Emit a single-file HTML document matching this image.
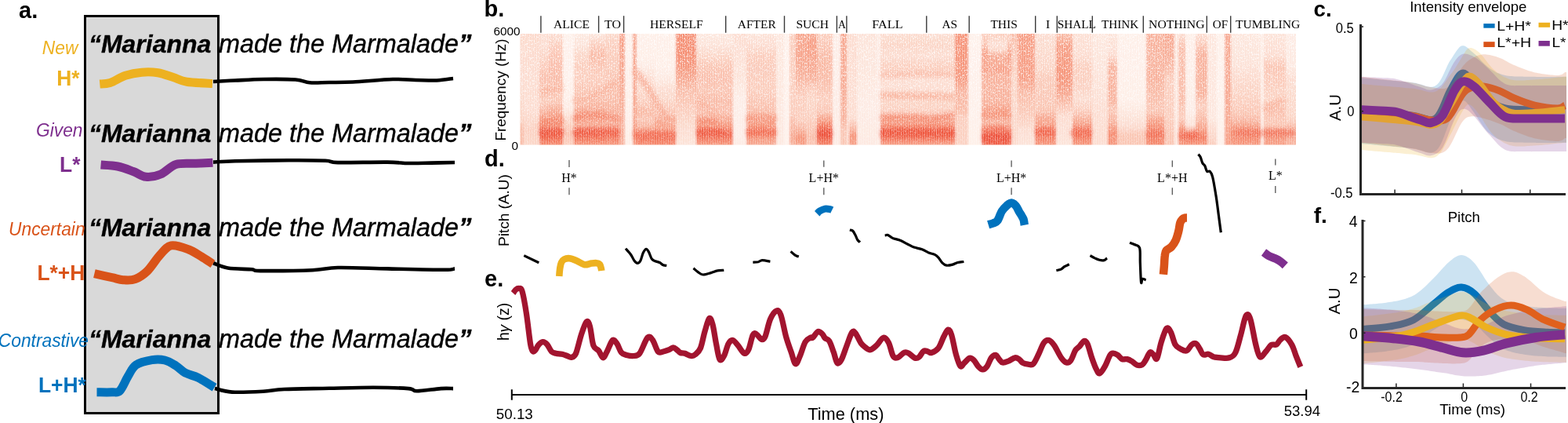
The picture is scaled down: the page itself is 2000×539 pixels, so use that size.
<!DOCTYPE html>
<html><head><meta charset="utf-8"><title>Figure</title>
<style>html,body{margin:0;padding:0;background:#fff;width:2000px;height:539px;overflow:hidden}svg{display:block}</style>
</head><body>
<svg width="2000" height="539" viewBox="0 0 2000 539"><defs><clipPath id="spc"><rect x="663.2" y="43" width="989.8" height="141.6"/></clipPath><filter id="hblur" x="-2%" y="0" width="104%" height="100%"><feGaussianBlur stdDeviation="1.1 0.8"/></filter><filter id="speck" x="0" y="0" width="100%" height="100%" color-interpolation-filters="sRGB"><feTurbulence type="fractalNoise" baseFrequency="0.75 0.45" numOctaves="2" seed="11" result="n"/><feColorMatrix in="n" type="matrix" values="0 0 0 0 1  0 0 0 0 1  0 0 0 0 1  1 0 0 0 0"/><feComponentTransfer><feFuncA type="discrete" tableValues="0 0 0 0 0 0 0 0 0 0 0 0 0.7 0.9 0.9 0.9 0.9 0.9 0.9 0.9"/></feComponentTransfer></filter><linearGradient id="spmask_g" x1="0" y1="0" x2="0" y2="1"><stop offset="0" stop-color="#fff" stop-opacity="0.75"/><stop offset="0.6" stop-color="#fff" stop-opacity="0.6"/><stop offset="1" stop-color="#fff" stop-opacity="0.25"/></linearGradient><mask id="spmask" maskContentUnits="userSpaceOnUse"><rect x="663.2" y="43" width="989.8" height="141.6" fill="url(#spmask_g)"/></mask><pattern id="vstr" x="0" y="0" width="3" height="10" patternUnits="userSpaceOnUse"><rect x="0" y="0" width="1" height="10" fill="#fff" fill-opacity="0.22"/></pattern><linearGradient id="sg0" x1="0" y1="0" x2="0" y2="1"><stop offset="1.4%" stop-color="#fcdacd"/><stop offset="40.5%" stop-color="#fcddd1"/><stop offset="74.9%" stop-color="#fbd6c7"/><stop offset="85.2%" stop-color="#f9bda9"/><stop offset="98.2%" stop-color="#f9bda9"/></linearGradient><linearGradient id="sg1" x1="0" y1="0" x2="0" y2="1"><stop offset="1.4%" stop-color="#fcdacd"/><stop offset="40.5%" stop-color="#fcddd1"/><stop offset="68%" stop-color="#fcddd1"/><stop offset="85.2%" stop-color="#fbd1c2"/><stop offset="98.2%" stop-color="#fbd6c7"/></linearGradient><linearGradient id="sg2" x1="0" y1="0" x2="0" y2="1"><stop offset="1.4%" stop-color="#fcddd1"/><stop offset="13%" stop-color="#fcddd1"/><stop offset="26.8%" stop-color="#fbcebe"/><stop offset="40.5%" stop-color="#fac0ae"/><stop offset="50.8%" stop-color="#fac6b4"/><stop offset="61.1%" stop-color="#facbba"/><stop offset="69.4%" stop-color="#f8b39e"/><stop offset="76.9%" stop-color="#f6957a"/><stop offset="81.7%" stop-color="#f79f86"/><stop offset="87.2%" stop-color="#ee5740"/><stop offset="92.7%" stop-color="#f26b51"/><stop offset="98.2%" stop-color="#f58a6e"/></linearGradient><linearGradient id="sg3" x1="0" y1="0" x2="0" y2="1"><stop offset="1.4%" stop-color="#fcddd1"/><stop offset="11%" stop-color="#fbcebe"/><stop offset="26.8%" stop-color="#fac0ae"/><stop offset="40.5%" stop-color="#f9bda9"/><stop offset="50.8%" stop-color="#fac6b4"/><stop offset="61.1%" stop-color="#fac6b4"/><stop offset="69.4%" stop-color="#f7a992"/><stop offset="76.9%" stop-color="#f6957a"/><stop offset="81.7%" stop-color="#f79f86"/><stop offset="87.2%" stop-color="#ee5740"/><stop offset="92.7%" stop-color="#f26b51"/><stop offset="98.2%" stop-color="#f58a6e"/></linearGradient><linearGradient id="sg4" x1="0" y1="0" x2="0" y2="1"><stop offset="1.4%" stop-color="#fef1eb"/><stop offset="54.3%" stop-color="#fef0e9"/><stop offset="68%" stop-color="#fde9e1"/><stop offset="78.3%" stop-color="#fbd6c7"/><stop offset="88.6%" stop-color="#fac6b4"/><stop offset="98.2%" stop-color="#fbcebe"/></linearGradient><linearGradient id="sg5" x1="0" y1="0" x2="0" y2="1"><stop offset="1.4%" stop-color="#fde9e1"/><stop offset="11%" stop-color="#fce3d9"/><stop offset="20.6%" stop-color="#fbd6c7"/><stop offset="30.2%" stop-color="#fbcebe"/><stop offset="40.5%" stop-color="#fbcebe"/><stop offset="50.1%" stop-color="#fac6b4"/><stop offset="59.8%" stop-color="#fac6b4"/><stop offset="69.4%" stop-color="#f7a992"/><stop offset="74.9%" stop-color="#f79f86"/><stop offset="81.7%" stop-color="#f7a992"/><stop offset="87.2%" stop-color="#f06048"/><stop offset="92.7%" stop-color="#f3755b"/><stop offset="98.2%" stop-color="#f6957a"/></linearGradient><linearGradient id="sg6" x1="0" y1="0" x2="0" y2="1"><stop offset="1.4%" stop-color="#fde7de"/><stop offset="11%" stop-color="#fbcebe"/><stop offset="20.6%" stop-color="#f9b9a4"/><stop offset="30.2%" stop-color="#fac6b4"/><stop offset="40.5%" stop-color="#fbcebe"/><stop offset="50.1%" stop-color="#fac6b4"/><stop offset="59.8%" stop-color="#f9bda9"/><stop offset="69.4%" stop-color="#f7a992"/><stop offset="74.9%" stop-color="#f79f86"/><stop offset="81.7%" stop-color="#f7a992"/><stop offset="87.2%" stop-color="#f06048"/><stop offset="92.7%" stop-color="#f3755b"/><stop offset="98.2%" stop-color="#f6957a"/></linearGradient><linearGradient id="sg7" x1="0" y1="0" x2="0" y2="1"><stop offset="1.4%" stop-color="#fcdacd"/><stop offset="11%" stop-color="#fbcebe"/><stop offset="30.2%" stop-color="#facbba"/><stop offset="40.5%" stop-color="#fac6b4"/><stop offset="59.8%" stop-color="#f9bda9"/><stop offset="69.4%" stop-color="#f8b39e"/><stop offset="78.3%" stop-color="#f8b39e"/><stop offset="87.2%" stop-color="#f3755b"/><stop offset="92.7%" stop-color="#f48065"/><stop offset="98.2%" stop-color="#f6957a"/></linearGradient><linearGradient id="sg8" x1="0" y1="0" x2="0" y2="1"><stop offset="1.4%" stop-color="#f79f86"/><stop offset="40.5%" stop-color="#f7a992"/><stop offset="74.9%" stop-color="#f8b39e"/><stop offset="98.2%" stop-color="#f8b39e"/></linearGradient><linearGradient id="sg9" x1="0" y1="0" x2="0" y2="1"><stop offset="1.4%" stop-color="#fef1eb"/><stop offset="98.2%" stop-color="#fef0e9"/></linearGradient><linearGradient id="sg10" x1="0" y1="0" x2="0" y2="1"><stop offset="1.4%" stop-color="#f7a992"/><stop offset="40.5%" stop-color="#f7a992"/><stop offset="74.9%" stop-color="#f7a992"/><stop offset="88.6%" stop-color="#f6957a"/><stop offset="98.2%" stop-color="#f79f86"/></linearGradient><linearGradient id="sg11" x1="0" y1="0" x2="0" y2="1"><stop offset="1.4%" stop-color="#fef0e9"/><stop offset="20.6%" stop-color="#feefe8"/><stop offset="30.2%" stop-color="#fdebe4"/><stop offset="40.5%" stop-color="#fcddd1"/><stop offset="50.1%" stop-color="#fcdacd"/><stop offset="59.8%" stop-color="#fbcebe"/><stop offset="69.4%" stop-color="#f9b9a4"/><stop offset="76.9%" stop-color="#fac6b4"/><stop offset="85.2%" stop-color="#f7a992"/><stop offset="92%" stop-color="#f3755b"/><stop offset="98.2%" stop-color="#f58a6e"/></linearGradient><linearGradient id="sg12" x1="0" y1="0" x2="0" y2="1"><stop offset="1.4%" stop-color="#fef0e9"/><stop offset="20.6%" stop-color="#feefe8"/><stop offset="30.2%" stop-color="#feefe8"/><stop offset="40.5%" stop-color="#fde9e1"/><stop offset="50.1%" stop-color="#fcddd1"/><stop offset="59.8%" stop-color="#fbd6c7"/><stop offset="69.4%" stop-color="#fac6b4"/><stop offset="76.9%" stop-color="#f7a992"/><stop offset="85.2%" stop-color="#f79f86"/><stop offset="92%" stop-color="#f3755b"/><stop offset="98.2%" stop-color="#f58a6e"/></linearGradient><linearGradient id="sg13" x1="0" y1="0" x2="0" y2="1"><stop offset="1.4%" stop-color="#f59075"/><stop offset="20.6%" stop-color="#f59075"/><stop offset="30.2%" stop-color="#f6997f"/><stop offset="40.5%" stop-color="#f7a992"/><stop offset="50.1%" stop-color="#f9bda9"/><stop offset="59.8%" stop-color="#fac6b4"/><stop offset="69.4%" stop-color="#fbcebe"/><stop offset="76.9%" stop-color="#fbd6c7"/><stop offset="85.2%" stop-color="#fcddd1"/><stop offset="92%" stop-color="#fce0d4"/><stop offset="98.2%" stop-color="#fce3d9"/></linearGradient><linearGradient id="sg14" x1="0" y1="0" x2="0" y2="1"><stop offset="1.4%" stop-color="#fde7de"/><stop offset="11%" stop-color="#fce3d9"/><stop offset="20.6%" stop-color="#fbd6c7"/><stop offset="30.2%" stop-color="#fac6b4"/><stop offset="40.5%" stop-color="#fac0ae"/><stop offset="50.1%" stop-color="#fac6b4"/><stop offset="59.8%" stop-color="#f9bda9"/><stop offset="69.4%" stop-color="#fac0ae"/><stop offset="76.9%" stop-color="#f7a992"/><stop offset="83.1%" stop-color="#f6957a"/><stop offset="88.6%" stop-color="#f1664e"/><stop offset="98.2%" stop-color="#f6957a"/></linearGradient><linearGradient id="sg15" x1="0" y1="0" x2="0" y2="1"><stop offset="1.4%" stop-color="#fcddd1"/><stop offset="40.5%" stop-color="#fce3d9"/><stop offset="50.1%" stop-color="#fde9e1"/><stop offset="59.8%" stop-color="#fdede7"/><stop offset="85.2%" stop-color="#fdede7"/><stop offset="98.2%" stop-color="#fdebe4"/></linearGradient><linearGradient id="sg16" x1="0" y1="0" x2="0" y2="1"><stop offset="1.4%" stop-color="#fce3d9"/><stop offset="11%" stop-color="#fcddd1"/><stop offset="20.6%" stop-color="#fbcebe"/><stop offset="30.2%" stop-color="#facbba"/><stop offset="50.1%" stop-color="#fbcebe"/><stop offset="59.8%" stop-color="#fac6b4"/><stop offset="69.4%" stop-color="#f9bda9"/><stop offset="76.9%" stop-color="#f79f86"/><stop offset="83.1%" stop-color="#f6957a"/><stop offset="88.6%" stop-color="#f58a6e"/><stop offset="98.2%" stop-color="#f7a992"/></linearGradient><linearGradient id="sg17" x1="0" y1="0" x2="0" y2="1"><stop offset="1.4%" stop-color="#fde7de"/><stop offset="98.2%" stop-color="#fde9e1"/></linearGradient><linearGradient id="sg18" x1="0" y1="0" x2="0" y2="1"><stop offset="1.4%" stop-color="#fef1eb"/><stop offset="98.2%" stop-color="#fef1eb"/></linearGradient><linearGradient id="sg19" x1="0" y1="0" x2="0" y2="1"><stop offset="1.4%" stop-color="#fbcebe"/><stop offset="69.4%" stop-color="#fbcebe"/><stop offset="85.2%" stop-color="#f8b39e"/><stop offset="92.7%" stop-color="#f7a992"/><stop offset="98.2%" stop-color="#f8b39e"/></linearGradient><linearGradient id="sg20" x1="0" y1="0" x2="0" y2="1"><stop offset="1.4%" stop-color="#f7a992"/><stop offset="20.6%" stop-color="#f7a58d"/><stop offset="40.5%" stop-color="#f8b39e"/><stop offset="50.1%" stop-color="#fac6b4"/><stop offset="59.8%" stop-color="#fbcebe"/><stop offset="76.9%" stop-color="#fbcebe"/><stop offset="85.2%" stop-color="#f8b39e"/><stop offset="92.7%" stop-color="#f6957a"/><stop offset="98.2%" stop-color="#f79f86"/></linearGradient><linearGradient id="sg21" x1="0" y1="0" x2="0" y2="1"><stop offset="1.4%" stop-color="#f7a992"/><stop offset="11%" stop-color="#f79f86"/><stop offset="30.2%" stop-color="#f7a992"/><stop offset="40.5%" stop-color="#f8b39e"/><stop offset="50.1%" stop-color="#fbcebe"/><stop offset="59.8%" stop-color="#fbd6c7"/><stop offset="76.9%" stop-color="#fbcebe"/><stop offset="85.2%" stop-color="#fac6b4"/><stop offset="92.7%" stop-color="#f9bda9"/><stop offset="98.2%" stop-color="#fac6b4"/></linearGradient><linearGradient id="sg22" x1="0" y1="0" x2="0" y2="1"><stop offset="1.4%" stop-color="#fbcebe"/><stop offset="11%" stop-color="#fac6b4"/><stop offset="20.6%" stop-color="#f9bda9"/><stop offset="30.2%" stop-color="#f9b9a4"/><stop offset="40.5%" stop-color="#f9bda9"/><stop offset="50.1%" stop-color="#fac6b4"/><stop offset="59.8%" stop-color="#fbcebe"/><stop offset="69.4%" stop-color="#fac6b4"/><stop offset="76.9%" stop-color="#f79f86"/><stop offset="83.1%" stop-color="#f3755b"/><stop offset="88.6%" stop-color="#ee5740"/><stop offset="98.2%" stop-color="#f48065"/></linearGradient><linearGradient id="sg23" x1="0" y1="0" x2="0" y2="1"><stop offset="1.4%" stop-color="#fdede7"/><stop offset="98.2%" stop-color="#fdebe4"/></linearGradient><linearGradient id="sg24" x1="0" y1="0" x2="0" y2="1"><stop offset="1.4%" stop-color="#f7a992"/><stop offset="40.5%" stop-color="#f7a992"/><stop offset="74.9%" stop-color="#f8b39e"/><stop offset="88.6%" stop-color="#fac6b4"/><stop offset="98.2%" stop-color="#fac6b4"/></linearGradient><linearGradient id="sg25" x1="0" y1="0" x2="0" y2="1"><stop offset="1.4%" stop-color="#fcddd1"/><stop offset="98.2%" stop-color="#fcddd1"/></linearGradient><linearGradient id="sg26" x1="0" y1="0" x2="0" y2="1"><stop offset="1.4%" stop-color="#fcddd1"/><stop offset="74.9%" stop-color="#fcddd1"/><stop offset="85.2%" stop-color="#f8b39e"/><stop offset="90%" stop-color="#f6957a"/><stop offset="98.2%" stop-color="#f79f86"/></linearGradient><linearGradient id="sg27" x1="0" y1="0" x2="0" y2="1"><stop offset="1.4%" stop-color="#fce3d9"/><stop offset="40.5%" stop-color="#fde7de"/><stop offset="61.1%" stop-color="#fdebe4"/><stop offset="98.2%" stop-color="#fde9e1"/></linearGradient><linearGradient id="sg28" x1="0" y1="0" x2="0" y2="1"><stop offset="1.4%" stop-color="#fdebe4"/><stop offset="98.2%" stop-color="#fdebe4"/></linearGradient><linearGradient id="sg29" x1="0" y1="0" x2="0" y2="1"><stop offset="1.4%" stop-color="#fcddd1"/><stop offset="11%" stop-color="#fbd6c7"/><stop offset="20.6%" stop-color="#fcddd1"/><stop offset="30.2%" stop-color="#fbcebe"/><stop offset="40.5%" stop-color="#fcddd1"/><stop offset="50.1%" stop-color="#fcddd1"/><stop offset="54.9%" stop-color="#fbcebe"/><stop offset="59.8%" stop-color="#fbd6c7"/><stop offset="69.4%" stop-color="#fbcebe"/><stop offset="76.9%" stop-color="#f7a992"/><stop offset="83.1%" stop-color="#f48065"/><stop offset="87.2%" stop-color="#ee5740"/><stop offset="92.7%" stop-color="#f3755b"/><stop offset="98.2%" stop-color="#f79f86"/></linearGradient><linearGradient id="sg30" x1="0" y1="0" x2="0" y2="1"><stop offset="1.4%" stop-color="#f6957a"/><stop offset="40.5%" stop-color="#f6997f"/><stop offset="50.1%" stop-color="#f8b39e"/><stop offset="68%" stop-color="#f9bda9"/><stop offset="74.9%" stop-color="#fbcebe"/><stop offset="98.2%" stop-color="#fbd1c2"/></linearGradient><linearGradient id="sg31" x1="0" y1="0" x2="0" y2="1"><stop offset="1.4%" stop-color="#fef1eb"/><stop offset="98.2%" stop-color="#fef0e9"/></linearGradient><linearGradient id="sg32" x1="0" y1="0" x2="0" y2="1"><stop offset="1.4%" stop-color="#fbcebe"/><stop offset="9.6%" stop-color="#fac6b4"/><stop offset="18.5%" stop-color="#f79f86"/><stop offset="40.5%" stop-color="#f8b39e"/><stop offset="61.1%" stop-color="#f8b39e"/><stop offset="71.4%" stop-color="#f79f86"/><stop offset="78.3%" stop-color="#f8b39e"/><stop offset="85.2%" stop-color="#f79f86"/><stop offset="90%" stop-color="#f06048"/><stop offset="98.2%" stop-color="#f26b51"/></linearGradient><linearGradient id="sg33" x1="0" y1="0" x2="0" y2="1"><stop offset="1.4%" stop-color="#fbcebe"/><stop offset="9.6%" stop-color="#fcddd1"/><stop offset="15.1%" stop-color="#fcdacd"/><stop offset="21.3%" stop-color="#f7a992"/><stop offset="40.5%" stop-color="#f8b39e"/><stop offset="61.1%" stop-color="#f8b39e"/><stop offset="71.4%" stop-color="#f6957a"/><stop offset="78.3%" stop-color="#f8b39e"/><stop offset="85.2%" stop-color="#f79f86"/><stop offset="90%" stop-color="#ee5740"/><stop offset="98.2%" stop-color="#f06048"/></linearGradient><linearGradient id="sg34" x1="0" y1="0" x2="0" y2="1"><stop offset="1.4%" stop-color="#fbcebe"/><stop offset="9.6%" stop-color="#fac6b4"/><stop offset="18.5%" stop-color="#f79f86"/><stop offset="40.5%" stop-color="#f8b39e"/><stop offset="61.1%" stop-color="#f8b39e"/><stop offset="71.4%" stop-color="#f79f86"/><stop offset="78.3%" stop-color="#f8b39e"/><stop offset="85.2%" stop-color="#f79f86"/><stop offset="90%" stop-color="#f06048"/><stop offset="98.2%" stop-color="#f26b51"/></linearGradient><linearGradient id="sg35" x1="0" y1="0" x2="0" y2="1"><stop offset="1.4%" stop-color="#f9bda9"/><stop offset="13%" stop-color="#fac6b4"/><stop offset="40.5%" stop-color="#fbd6c7"/><stop offset="98.2%" stop-color="#fcdacd"/></linearGradient><linearGradient id="sg36" x1="0" y1="0" x2="0" y2="1"><stop offset="1.4%" stop-color="#f79f86"/><stop offset="40.5%" stop-color="#f79f86"/><stop offset="54.3%" stop-color="#f9bda9"/><stop offset="74.9%" stop-color="#fbcebe"/><stop offset="85.2%" stop-color="#fcddd1"/><stop offset="98.2%" stop-color="#fce3d9"/></linearGradient><linearGradient id="sg37" x1="0" y1="0" x2="0" y2="1"><stop offset="1.4%" stop-color="#fcddd1"/><stop offset="30.2%" stop-color="#fbd6c7"/><stop offset="40.5%" stop-color="#facbba"/><stop offset="68%" stop-color="#fac6b4"/><stop offset="74.9%" stop-color="#f7a992"/><stop offset="81.7%" stop-color="#f79f86"/><stop offset="88.6%" stop-color="#f3755b"/><stop offset="98.2%" stop-color="#f6957a"/></linearGradient><linearGradient id="sg38" x1="0" y1="0" x2="0" y2="1"><stop offset="1.4%" stop-color="#f9bda9"/><stop offset="13%" stop-color="#f79f86"/><stop offset="40.5%" stop-color="#f6957a"/><stop offset="54.3%" stop-color="#f7a992"/><stop offset="68%" stop-color="#fbcebe"/><stop offset="74.9%" stop-color="#fcddd1"/><stop offset="98.2%" stop-color="#fce3d9"/></linearGradient><linearGradient id="sg39" x1="0" y1="0" x2="0" y2="1"><stop offset="1.4%" stop-color="#fce0d4"/><stop offset="19.9%" stop-color="#fcddd1"/><stop offset="30.2%" stop-color="#fbcebe"/><stop offset="47.4%" stop-color="#fbd1c2"/><stop offset="57.7%" stop-color="#fcddd1"/><stop offset="68%" stop-color="#fbcebe"/><stop offset="78.3%" stop-color="#f7a992"/><stop offset="87.2%" stop-color="#f3755b"/><stop offset="98.2%" stop-color="#f6957a"/></linearGradient><linearGradient id="sg40" x1="0" y1="0" x2="0" y2="1"><stop offset="1.4%" stop-color="#fde7de"/><stop offset="40.5%" stop-color="#fce3d9"/><stop offset="74.9%" stop-color="#fcddd1"/><stop offset="98.2%" stop-color="#fcddd1"/></linearGradient><linearGradient id="sg41" x1="0" y1="0" x2="0" y2="1"><stop offset="1.4%" stop-color="#fce3d9"/><stop offset="19.9%" stop-color="#fcddd1"/><stop offset="30.2%" stop-color="#f8b39e"/><stop offset="59.8%" stop-color="#f8b39e"/><stop offset="69.4%" stop-color="#fac6b4"/><stop offset="78.3%" stop-color="#f8b39e"/><stop offset="88.6%" stop-color="#f58a6e"/><stop offset="98.2%" stop-color="#f6957a"/></linearGradient><linearGradient id="sg42" x1="0" y1="0" x2="0" y2="1"><stop offset="1.4%" stop-color="#fef0e9"/><stop offset="59.8%" stop-color="#feefe8"/><stop offset="69.4%" stop-color="#fde7de"/><stop offset="81.7%" stop-color="#fcddd1"/><stop offset="90%" stop-color="#fac6b4"/><stop offset="98.2%" stop-color="#fac6b4"/></linearGradient><linearGradient id="sg43" x1="0" y1="0" x2="0" y2="1"><stop offset="1.4%" stop-color="#f8b39e"/><stop offset="40.5%" stop-color="#f8b39e"/><stop offset="54.3%" stop-color="#f9bda9"/><stop offset="69.4%" stop-color="#fac6b4"/><stop offset="78.3%" stop-color="#f79f86"/><stop offset="88.6%" stop-color="#f48065"/><stop offset="98.2%" stop-color="#f58a6e"/></linearGradient><linearGradient id="sg44" x1="0" y1="0" x2="0" y2="1"><stop offset="1.4%" stop-color="#f7a992"/><stop offset="26.8%" stop-color="#f8b39e"/><stop offset="40.5%" stop-color="#fbcebe"/><stop offset="74.9%" stop-color="#fbcebe"/><stop offset="88.6%" stop-color="#fac6b4"/><stop offset="98.2%" stop-color="#fac6b4"/></linearGradient><linearGradient id="sg45" x1="0" y1="0" x2="0" y2="1"><stop offset="1.4%" stop-color="#fde9e1"/><stop offset="98.2%" stop-color="#fde9e1"/></linearGradient><linearGradient id="sg46" x1="0" y1="0" x2="0" y2="1"><stop offset="1.4%" stop-color="#fcddd1"/><stop offset="13%" stop-color="#f9bda9"/><stop offset="61.1%" stop-color="#f9bda9"/><stop offset="74.9%" stop-color="#fbcebe"/><stop offset="85.2%" stop-color="#f6957a"/><stop offset="98.2%" stop-color="#f6957a"/></linearGradient><linearGradient id="sg47" x1="0" y1="0" x2="0" y2="1"><stop offset="1.4%" stop-color="#feefe8"/><stop offset="68%" stop-color="#fdede7"/><stop offset="81.7%" stop-color="#fce3d9"/><stop offset="90%" stop-color="#f48065"/><stop offset="98.2%" stop-color="#f6957a"/></linearGradient><linearGradient id="sg48" x1="0" y1="0" x2="0" y2="1"><stop offset="1.4%" stop-color="#fcddd1"/><stop offset="19.9%" stop-color="#f8b39e"/><stop offset="54.3%" stop-color="#f8b39e"/><stop offset="64.6%" stop-color="#fbcebe"/><stop offset="74.9%" stop-color="#f9bda9"/><stop offset="85.2%" stop-color="#f79f86"/><stop offset="92%" stop-color="#f48065"/><stop offset="98.2%" stop-color="#f6957a"/></linearGradient><linearGradient id="sg49" x1="0" y1="0" x2="0" y2="1"><stop offset="1.4%" stop-color="#fde7de"/><stop offset="74.9%" stop-color="#fde7de"/><stop offset="98.2%" stop-color="#fbcebe"/></linearGradient><linearGradient id="sg50" x1="0" y1="0" x2="0" y2="1"><stop offset="1.4%" stop-color="#fef1eb"/><stop offset="98.2%" stop-color="#fef1eb"/></linearGradient><linearGradient id="sg51" x1="0" y1="0" x2="0" y2="1"><stop offset="1.4%" stop-color="#f7a992"/><stop offset="74.9%" stop-color="#f7a992"/><stop offset="98.2%" stop-color="#f79f86"/></linearGradient><linearGradient id="sg52" x1="0" y1="0" x2="0" y2="1"><stop offset="1.4%" stop-color="#fde7de"/><stop offset="26.8%" stop-color="#fce3d9"/><stop offset="40.5%" stop-color="#fcdacd"/><stop offset="61.1%" stop-color="#fbcebe"/><stop offset="71.4%" stop-color="#fac6b4"/><stop offset="78.3%" stop-color="#f8b39e"/><stop offset="87.2%" stop-color="#f58a6e"/><stop offset="98.2%" stop-color="#f6957a"/></linearGradient><linearGradient id="sg53" x1="0" y1="0" x2="0" y2="1"><stop offset="1.4%" stop-color="#feefe8"/><stop offset="98.2%" stop-color="#fde9e1"/></linearGradient><linearGradient id="sg54" x1="0" y1="0" x2="0" y2="1"><stop offset="1.4%" stop-color="#fce3d9"/><stop offset="19.9%" stop-color="#fcddd1"/><stop offset="30.2%" stop-color="#fac6b4"/><stop offset="47.4%" stop-color="#fbcebe"/><stop offset="57.7%" stop-color="#fbd6c7"/><stop offset="68%" stop-color="#f9bda9"/><stop offset="74.9%" stop-color="#fac6b4"/><stop offset="81.7%" stop-color="#fac6b4"/><stop offset="88.6%" stop-color="#f6957a"/><stop offset="98.2%" stop-color="#f79f86"/></linearGradient><linearGradient id="sg55" x1="0" y1="0" x2="0" y2="1"><stop offset="1.4%" stop-color="#fdebe4"/><stop offset="30.2%" stop-color="#fde9e1"/><stop offset="40.5%" stop-color="#fcddd1"/><stop offset="74.9%" stop-color="#fbd6c7"/><stop offset="85.2%" stop-color="#f8b39e"/><stop offset="98.2%" stop-color="#f8b39e"/></linearGradient><filter id="fblur" x="-10%" y="-50%" width="120%" height="200%"><feGaussianBlur stdDeviation="2.5 2.4"/></filter><clipPath id="cclip"><rect x="1737" y="20" width="263" height="226"/></clipPath><clipPath id="fclip"><rect x="1739" y="280" width="261" height="212"/></clipPath></defs><rect x="108.5" y="20.5" width="170" height="506" fill="#d9d9d9" stroke="#000" stroke-width="3"/>
<text x="24" y="22.5" font-size="29" fill="#000" text-anchor="start" style="font-family:'Liberation Sans',Arial,Helvetica,sans-serif" font-weight="bold">a.</text>
<text transform="translate(99.4,69) scale(1,1.03)" font-size="22.8" fill="#EDB120" text-anchor="end" font-style="italic" style="font-family:'Liberation Sans',Arial,Helvetica,sans-serif">New</text>
<text transform="translate(101.5,108.7) scale(1,1.08)" font-size="26.4" fill="#EDB120" text-anchor="end" font-weight="bold" style="font-family:'Liberation Sans',Arial,Helvetica,sans-serif">H*</text>
<text x="112.9" y="67" font-size="32.8" style="font-family:'Liberation Sans',Arial,Helvetica,sans-serif" font-style="italic" stroke="#000" stroke-width="0.35"><tspan font-weight="bold" font-size="32">“Marianna</tspan><tspan x="279" font-size="32.4">made the Marmalade</tspan><tspan font-weight="bold" font-size="33">”</tspan></text>
<text transform="translate(105.5,173.9) scale(1,1.03)" font-size="22.8" fill="#7E2F8E" text-anchor="end" font-style="italic" style="font-family:'Liberation Sans',Arial,Helvetica,sans-serif">Given</text>
<text transform="translate(102.5,219.4) scale(1,1.08)" font-size="26.4" fill="#7E2F8E" text-anchor="end" font-weight="bold" style="font-family:'Liberation Sans',Arial,Helvetica,sans-serif">L*</text>
<text x="112.9" y="180.6" font-size="32.8" style="font-family:'Liberation Sans',Arial,Helvetica,sans-serif" font-style="italic" stroke="#000" stroke-width="0.35"><tspan font-weight="bold" font-size="32">“Marianna</tspan><tspan x="279" font-size="32.4">made the Marmalade</tspan><tspan font-weight="bold" font-size="33">”</tspan></text>
<text transform="translate(108.6,300.2) scale(1,1.03)" font-size="22.8" fill="#D95319" text-anchor="end" font-style="italic" style="font-family:'Liberation Sans',Arial,Helvetica,sans-serif">Uncertain</text>
<text transform="translate(108.3,357.3) scale(1,1.08)" font-size="26.4" fill="#D95319" text-anchor="end" font-weight="bold" style="font-family:'Liberation Sans',Arial,Helvetica,sans-serif">L*+H</text>
<text x="112.9" y="301.3" font-size="32.8" style="font-family:'Liberation Sans',Arial,Helvetica,sans-serif" font-style="italic" stroke="#000" stroke-width="0.35"><tspan font-weight="bold" font-size="32">“Marianna</tspan><tspan x="279" font-size="32.4">made the Marmalade</tspan><tspan font-weight="bold" font-size="33">”</tspan></text>
<text transform="translate(113,441.6) scale(1,1.03)" font-size="22.8" fill="#0072BD" text-anchor="end" font-style="italic" style="font-family:'Liberation Sans',Arial,Helvetica,sans-serif">Contrastive</text>
<text transform="translate(109.8,499.8) scale(1,1.08)" font-size="26.4" fill="#0072BD" text-anchor="end" font-weight="bold" style="font-family:'Liberation Sans',Arial,Helvetica,sans-serif">L+H*</text>
<text x="112.9" y="443" font-size="32.8" style="font-family:'Liberation Sans',Arial,Helvetica,sans-serif" font-style="italic" stroke="#000" stroke-width="0.35"><tspan font-weight="bold" font-size="32">“Marianna</tspan><tspan x="279" font-size="32.4">made the Marmalade</tspan><tspan font-weight="bold" font-size="33">”</tspan></text>
<path d="M272,104 C276.7,103.8 289.3,103 300,102.5 C310.7,102 323.2,101.2 336,101 C348.8,100.8 367.2,100.8 377,101.5 C386.8,102.2 387.8,104.7 395,105.3 C402.2,105.9 410.8,105.1 420,105 C429.2,104.9 436.5,105.2 450,104.5 C463.5,103.8 487.7,101.4 501,101 C514.3,100.6 520.7,101.8 530,102 C539.3,102.2 549,102.8 557,102.5 C565,102.2 574.5,100.4 578,100" fill="none" stroke="#000" stroke-width="4.6"/>
<path d="M272,206.6 C276.7,206.4 284,205.6 300,205.2 C316,204.8 348.8,204.4 368,204.3 C387.2,204.2 404.5,204.3 415,204.8 C425.5,205.3 417.8,206.8 431,207.1 C444.2,207.4 479,206.4 494,206.6 C509,206.8 511.7,207.8 521,208 C530.3,208.2 540.2,207.8 550,207.6 C559.8,207.4 575,207.1 580,207" fill="none" stroke="#000" stroke-width="4.6"/>
<path d="M272,335.2 C275.1,336.2 282.4,340.1 290.6,341.5 C298.8,342.9 314.1,342.7 321,343.3 C327.9,343.9 319.1,345 332,345.1 C344.9,345.2 382.1,344.9 398.6,344.2 C415.1,343.5 415.1,341.3 431,341 C446.9,340.7 471.5,341.9 494,342.4 C516.5,342.9 551.7,343.8 566,343.8 C580.3,343.8 577.7,342.6 580,342.4" fill="none" stroke="#000" stroke-width="4.6"/>
<path d="M274,495.1 C277.7,495.9 285.7,499 296,499.6 C306.3,500.2 324.5,499.3 335.6,498.7 C346.7,498.1 348.5,496.6 362.6,496 C376.7,495.4 401.1,495.2 420,494.8 C438.9,494.4 459.2,493.8 476,493.8 C492.8,493.9 511.7,494.4 521,495.1 C530.3,495.9 524.9,498.3 531.8,498.3 C538.7,498.3 554.7,495.6 562.4,495.1 C570.1,494.6 575.4,495.1 578,495.1" fill="none" stroke="#000" stroke-width="4.6"/>
<path d="M127.3,107 C129.5,106.8 135.1,107.3 140.5,105.5 C145.9,103.7 153.3,98.5 160,96.3 C166.7,94.1 173.8,92.8 180.7,92.2 C187.6,91.6 194.7,91.7 201.4,92.8 C208.1,93.9 214.9,96.7 221,98.6 C227.1,100.5 229.9,103 238.2,104.3 C246.5,105.6 265.5,106.1 271,106.4" fill="none" stroke="#EDB120" stroke-width="11" stroke-linejoin="round"/>
<path d="M128.6,210 C132.2,210.3 143.1,210.6 150,212 C156.9,213.4 164,216.3 170,218.5 C176,220.7 180.2,224.7 186,225.3 C191.8,225.9 198.6,224.6 205,222 C211.4,219.4 217,211.8 224.5,209.5 C232,207.2 242.2,208.7 250,208.3 C257.8,207.9 267.8,207.5 271.4,207.3" fill="none" stroke="#7E2F8E" stroke-width="11" stroke-linejoin="round"/>
<path d="M120.4,348.6 C124.2,349.5 136.8,352.4 142.9,353.7 C149,355 152.1,356.4 157,356.7 C161.9,357 167.3,357.6 172.4,355.7 C177.5,353.8 182.5,350.6 187.8,345.5 C193.1,340.4 198.9,330.4 204,325 C209.1,319.6 212.3,314.1 218.4,312.9 C224.5,311.7 234.4,315.6 240.8,318 C247.2,320.4 251.9,323.9 257,327 C262.1,330.1 269,334.8 271.4,336.3" fill="none" stroke="#D95319" stroke-width="11" stroke-linejoin="round"/>
<path d="M123.5,499.8 C126.7,499.8 138,500.1 142.9,499.8 C147.8,499.5 149.6,501.2 153,497.8 C156.4,494.4 159.9,484.9 163.3,479.4 C166.7,473.9 168.4,468.5 173.5,465 C178.6,461.5 187.8,459.6 193.9,458.6 C200,457.6 205.1,457.8 210.2,459 C215.3,460.2 220.1,463.4 224.5,466.1 C228.9,468.8 231.9,472.8 236.7,475.3 C241.4,477.9 246.9,478.3 253,481.4 C259.1,484.5 270.1,491.6 273.5,493.7" fill="none" stroke="#0072BD" stroke-width="11" stroke-linejoin="round"/>
<g clip-path="url(#spc)">
<rect x="663.2" y="43" width="989.8" height="141.6" fill="#fdf0ea"/>
<g filter="url(#hblur)">
<rect x="663" y="41" width="5.6" height="145.6" fill="url(#sg0)"/>
<rect x="668" y="41" width="20.6" height="145.6" fill="url(#sg1)"/>
<rect x="688" y="41" width="12.6" height="145.6" fill="url(#sg2)"/>
<rect x="700" y="41" width="18.6" height="145.6" fill="url(#sg3)"/>
<rect x="718" y="41" width="14.6" height="145.6" fill="url(#sg4)"/>
<rect x="732" y="41" width="20.6" height="145.6" fill="url(#sg5)"/>
<rect x="752" y="41" width="20.6" height="145.6" fill="url(#sg6)"/>
<rect x="772" y="41" width="18.6" height="145.6" fill="url(#sg7)"/>
<rect x="790" y="41" width="7.6" height="145.6" fill="url(#sg8)"/>
<rect x="797" y="41" width="10.6" height="145.6" fill="url(#sg9)"/>
<rect x="807" y="41" width="5.6" height="145.6" fill="url(#sg10)"/>
<rect x="812" y="41" width="23.6" height="145.6" fill="url(#sg11)"/>
<rect x="835" y="41" width="27.6" height="145.6" fill="url(#sg12)"/>
<rect x="862" y="41" width="26.6" height="145.6" fill="url(#sg13)"/>
<rect x="888" y="41" width="47.6" height="145.6" fill="url(#sg14)"/>
<rect x="935" y="41" width="17.6" height="145.6" fill="url(#sg15)"/>
<rect x="952" y="41" width="38.6" height="145.6" fill="url(#sg16)"/>
<rect x="990" y="41" width="10.6" height="145.6" fill="url(#sg17)"/>
<rect x="1000" y="41" width="7.6" height="145.6" fill="url(#sg18)"/>
<rect x="1007" y="41" width="8.6" height="145.6" fill="url(#sg19)"/>
<rect x="1015" y="41" width="13.6" height="145.6" fill="url(#sg20)"/>
<rect x="1028" y="41" width="14.6" height="145.6" fill="url(#sg21)"/>
<rect x="1042" y="41" width="20.6" height="145.6" fill="url(#sg22)"/>
<rect x="1062" y="41" width="10.6" height="145.6" fill="url(#sg23)"/>
<rect x="1072" y="41" width="8.6" height="145.6" fill="url(#sg24)"/>
<rect x="1080" y="41" width="3.6" height="145.6" fill="url(#sg25)"/>
<rect x="1083" y="41" width="10.6" height="145.6" fill="url(#sg26)"/>
<rect x="1093" y="41" width="25.6" height="145.6" fill="url(#sg27)"/>
<rect x="1118" y="41" width="5.6" height="145.6" fill="url(#sg28)"/>
<rect x="1123" y="41" width="95.6" height="145.6" fill="url(#sg29)"/>
<rect x="1218" y="41" width="17.6" height="145.6" fill="url(#sg30)"/>
<rect x="1235" y="41" width="17.6" height="145.6" fill="url(#sg31)"/>
<rect x="1252" y="41" width="8.6" height="145.6" fill="url(#sg32)"/>
<rect x="1260" y="41" width="25.6" height="145.6" fill="url(#sg33)"/>
<rect x="1285" y="41" width="5.6" height="145.6" fill="url(#sg34)"/>
<rect x="1290" y="41" width="8.6" height="145.6" fill="url(#sg35)"/>
<rect x="1298" y="41" width="22.6" height="145.6" fill="url(#sg36)"/>
<rect x="1320" y="41" width="27.6" height="145.6" fill="url(#sg37)"/>
<rect x="1347" y="41" width="21.6" height="145.6" fill="url(#sg38)"/>
<rect x="1368" y="41" width="25.6" height="145.6" fill="url(#sg39)"/>
<rect x="1393" y="41" width="20.6" height="145.6" fill="url(#sg40)"/>
<rect x="1413" y="41" width="12.6" height="145.6" fill="url(#sg41)"/>
<rect x="1425" y="41" width="37.6" height="145.6" fill="url(#sg42)"/>
<rect x="1462" y="41" width="23.6" height="145.6" fill="url(#sg43)"/>
<rect x="1485" y="41" width="13.6" height="145.6" fill="url(#sg44)"/>
<rect x="1498" y="41" width="5.6" height="145.6" fill="url(#sg45)"/>
<rect x="1503" y="41" width="9.6" height="145.6" fill="url(#sg46)"/>
<rect x="1512" y="41" width="13.6" height="145.6" fill="url(#sg47)"/>
<rect x="1525" y="41" width="15.6" height="145.6" fill="url(#sg48)"/>
<rect x="1540" y="41" width="12.6" height="145.6" fill="url(#sg49)"/>
<rect x="1552" y="41" width="10.6" height="145.6" fill="url(#sg50)"/>
<rect x="1562" y="41" width="8.6" height="145.6" fill="url(#sg51)"/>
<rect x="1570" y="41" width="38.6" height="145.6" fill="url(#sg52)"/>
<rect x="1608" y="41" width="4.6" height="145.6" fill="url(#sg53)"/>
<rect x="1612" y="41" width="28.6" height="145.6" fill="url(#sg54)"/>
<rect x="1640" y="41" width="14.6" height="145.6" fill="url(#sg55)"/>
</g>
<g filter="url(#fblur)">
<path d="M688,169 C690.7,168.8 698.8,168 704,168 C709.2,168 716.5,168.8 719,169" fill="none" stroke="#ef5841" stroke-width="9.600000000000001" stroke-opacity="0.75"/>
<path d="M688,160 C690.7,159.3 698.8,157 704,156 C709.2,155 716.5,154.3 719,154" fill="none" stroke="#f37b60" stroke-width="8.0" stroke-opacity="0.75"/>
<path d="M688,118 C690.7,117.3 698.8,115 704,114 C709.2,113 716.5,112.3 719,112" fill="none" stroke="#f8b09a" stroke-width="8.0" stroke-opacity="0.75"/>
<path d="M731,169 C735.8,168.8 750,167.8 760,168 C770,168.2 785.8,169.7 791,170" fill="none" stroke="#f06048" stroke-width="9.600000000000001" stroke-opacity="0.75"/>
<path d="M731,151 C734.2,150.2 743.5,146.5 750,146 C756.5,145.5 763.2,147 770,148 C776.8,149 787.5,151.3 791,152" fill="none" stroke="#f48468" stroke-width="8.0" stroke-opacity="0.75"/>
<path d="M731,128 C734.2,127.5 743.5,127.2 750,125 C756.5,122.8 763.2,118.5 770,115 C776.8,111.5 787.5,105.8 791,104" fill="none" stroke="#f8b09a" stroke-width="8.0" stroke-opacity="0.75"/>
<path d="M808,172 C812.5,171.8 826.2,171 835,171 C843.8,171 856.7,171.8 861,172" fill="none" stroke="#f16950" stroke-width="9.600000000000001" stroke-opacity="0.75"/>
<path d="M809,88 C811.7,91.7 819.8,102.2 825,110 C830.2,117.8 835.8,128 840,135 C844.2,142 846.5,148.3 850,152 C853.5,155.7 859.2,156.2 861,157" fill="none" stroke="#f7a790" stroke-width="8.0" stroke-opacity="0.75"/>
<path d="M889,168 C892,168 901,167.8 907,168 C913,168.2 922,168.8 925,169" fill="none" stroke="#ef5841" stroke-width="9.600000000000001" stroke-opacity="0.75"/>
<path d="M889,155 C892,154.8 901,153.8 907,154 C913,154.2 922,155.7 925,156" fill="none" stroke="#f48468" stroke-width="8.0" stroke-opacity="0.75"/>
<path d="M889,128 C891.7,130 899,135.5 905,140 C911,144.5 921.7,152.5 925,155" fill="none" stroke="#f8b09a" stroke-width="8.0" stroke-opacity="0.75"/>
<path d="M952,169 C955,168.8 963.7,168 970,168 C976.3,168 986.7,168.8 990,169" fill="none" stroke="#f16950" stroke-width="9.600000000000001" stroke-opacity="0.75"/>
<path d="M952,152 C955,151.7 963.7,150 970,150 C976.3,150 986.7,151.7 990,152" fill="none" stroke="#f6957b" stroke-width="8.0" stroke-opacity="0.75"/>
<path d="M1043,171 C1044.5,170.8 1049,170 1052,170 C1055,170 1059.5,170.8 1061,171" fill="none" stroke="#ec523d" stroke-width="9.600000000000001" stroke-opacity="0.75"/>
<path d="M1123,170 C1130.8,169.8 1154.3,168.8 1170,169 C1185.7,169.2 1209.2,170.7 1217,171" fill="none" stroke="#ef5841" stroke-width="9.600000000000001" stroke-opacity="0.75"/>
<path d="M1123,150 C1130.8,150 1158.8,149.7 1170,150 C1181.2,150.3 1182.2,152.7 1190,152 C1197.8,151.3 1212.5,147 1217,146" fill="none" stroke="#f48468" stroke-width="8.0" stroke-opacity="0.75"/>
<path d="M1123,122 C1130.8,122 1154.3,121.7 1170,122 C1185.7,122.3 1209.2,123.7 1217,124" fill="none" stroke="#f8b09a" stroke-width="8.0" stroke-opacity="0.75"/>
<path d="M1123,96 C1130.8,95.7 1154.3,94.2 1170,94 C1185.7,93.8 1209.2,94.8 1217,95" fill="none" stroke="#f9b9a5" stroke-width="8.0" stroke-opacity="0.75"/>
<path d="M1253,176 C1255.8,175.7 1264,174 1270,174 C1276,174 1285.8,175.7 1289,176" fill="none" stroke="#ec523d" stroke-width="9.600000000000001" stroke-opacity="0.75"/>
<path d="M1253,166 C1255.8,165.7 1264,164 1270,164 C1276,164 1285.8,165.7 1289,166" fill="none" stroke="#f06048" stroke-width="6.4" stroke-opacity="0.75"/>
<path d="M1253,148 C1255.8,147.7 1264,146 1270,146 C1276,146 1285.8,147.7 1289,148" fill="none" stroke="#f6957b" stroke-width="6.4" stroke-opacity="0.75"/>
<path d="M1253,90 C1255.8,89.7 1264,88 1270,88 C1276,88 1285.8,89.7 1289,90" fill="none" stroke="#f79e85" stroke-width="8.0" stroke-opacity="0.75"/>
<path d="M1321,168 C1323,167.8 1329.2,167 1333,167 C1336.8,167 1342.2,167.8 1344,168" fill="none" stroke="#f06048" stroke-width="9.600000000000001" stroke-opacity="0.75"/>
<path d="M1366,170 C1368.3,169.8 1375.7,169 1380,169 C1384.3,169 1390,169.8 1392,170" fill="none" stroke="#f16950" stroke-width="9.600000000000001" stroke-opacity="0.75"/>
<path d="M1463,172 C1464.8,171.8 1470.5,171 1474,171 C1477.5,171 1482.3,171.8 1484,172" fill="none" stroke="#f27258" stroke-width="9.600000000000001" stroke-opacity="0.75"/>
<path d="M1504,172 C1506.2,172.3 1512.8,174.3 1517,174 C1521.2,173.7 1527,170.7 1529,170" fill="none" stroke="#f06048" stroke-width="9.600000000000001" stroke-opacity="0.75"/>
<path d="M1576,170 C1578.8,169.8 1587.5,169 1593,169 C1598.5,169 1606.3,169.8 1609,170" fill="none" stroke="#f27258" stroke-width="9.600000000000001" stroke-opacity="0.75"/>
<path d="M1611,170 C1613.3,169.8 1618.2,169 1625,169 C1631.8,169 1647.5,169.8 1652,170" fill="none" stroke="#f27258" stroke-width="9.600000000000001" stroke-opacity="0.75"/>
<path d="M1611,140 C1613.3,138.7 1620.2,134.3 1625,132 C1629.8,129.7 1637.5,127 1640,126" fill="none" stroke="#f8b09a" stroke-width="8.0" stroke-opacity="0.75"/>
</g>
<rect x="663.2" y="43" width="989.8" height="141.6" fill="url(#vstr)"/>
<g mask="url(#spmask)"><rect x="663.2" y="43" width="989.8" height="141.6" filter="url(#speck)" fill="#fff"/></g>
</g>
<text x="617.5" y="20.6" font-size="29" fill="#000" text-anchor="start" style="font-family:'Liberation Sans',Arial,Helvetica,sans-serif" font-weight="bold">b.</text>
<text x="663.5" y="45.1" font-size="15.3" fill="#000" text-anchor="end" style="font-family:'Liberation Sans',Arial,Helvetica,sans-serif" >6000</text>
<text x="661" y="191" font-size="15.3" fill="#000" text-anchor="end" style="font-family:'Liberation Sans',Arial,Helvetica,sans-serif" >0</text>
<text transform="translate(644.5,114.5) rotate(-90)" font-size="18.9" fill="#000" text-anchor="middle" style="font-family:'Liberation Sans',Arial,Helvetica,sans-serif">Frequency (Hz)</text>
<text x="706" y="36.2" font-size="15.5" style="font-family:'Liberation Serif','Times New Roman',serif" textLength="46" lengthAdjust="spacingAndGlyphs">ALICE</text>
<text x="771.1" y="36.2" font-size="15.5" style="font-family:'Liberation Serif','Times New Roman',serif" textLength="21" lengthAdjust="spacingAndGlyphs">TO</text>
<text x="828.9" y="36.2" font-size="15.5" style="font-family:'Liberation Serif','Times New Roman',serif" textLength="67.9" lengthAdjust="spacingAndGlyphs">HERSELF</text>
<text x="940.7" y="36.2" font-size="15.5" style="font-family:'Liberation Serif','Times New Roman',serif" textLength="49.1" lengthAdjust="spacingAndGlyphs">AFTER</text>
<text x="1015.4" y="36.2" font-size="15.5" style="font-family:'Liberation Serif','Times New Roman',serif" textLength="41.5" lengthAdjust="spacingAndGlyphs">SUCH</text>
<text x="1068.9" y="36.2" font-size="15.5" style="font-family:'Liberation Serif','Times New Roman',serif" textLength="9.9" lengthAdjust="spacingAndGlyphs">A</text>
<text x="1112.2" y="36.2" font-size="15.5" style="font-family:'Liberation Serif','Times New Roman',serif" textLength="39.4" lengthAdjust="spacingAndGlyphs">FALL</text>
<text x="1201.4" y="36.2" font-size="15.5" style="font-family:'Liberation Serif','Times New Roman',serif" textLength="19.7" lengthAdjust="spacingAndGlyphs">AS</text>
<text x="1263.4" y="36.2" font-size="15.5" style="font-family:'Liberation Serif','Times New Roman',serif" textLength="34.4" lengthAdjust="spacingAndGlyphs">THIS</text>
<text x="1333.9" y="36.2" font-size="15.5" style="font-family:'Liberation Serif','Times New Roman',serif" textLength="5.2" lengthAdjust="spacingAndGlyphs">I</text>
<text x="1348.7" y="36.2" font-size="15.5" style="font-family:'Liberation Serif','Times New Roman',serif" textLength="49.2" lengthAdjust="spacingAndGlyphs">SHALL</text>
<text x="1404.9" y="36.2" font-size="15.5" style="font-family:'Liberation Serif','Times New Roman',serif" textLength="47.4" lengthAdjust="spacingAndGlyphs">THINK</text>
<text x="1465.1" y="36.2" font-size="15.5" style="font-family:'Liberation Serif','Times New Roman',serif" textLength="71.4" lengthAdjust="spacingAndGlyphs">NOTHING</text>
<text x="1546.8" y="36.2" font-size="15.5" style="font-family:'Liberation Serif','Times New Roman',serif" textLength="19.3" lengthAdjust="spacingAndGlyphs">OF</text>
<text x="1576" y="36.2" font-size="15.5" style="font-family:'Liberation Serif','Times New Roman',serif" textLength="82.3" lengthAdjust="spacingAndGlyphs">TUMBLING</text>
<line x1="689.9" y1="20.2" x2="689.9" y2="41.7" stroke="#3a3a3a" stroke-width="1.4"/>
<line x1="763.6" y1="20.2" x2="763.6" y2="41.7" stroke="#3a3a3a" stroke-width="1.4"/>
<line x1="795.6" y1="20.2" x2="795.6" y2="41.7" stroke="#3a3a3a" stroke-width="1.4"/>
<line x1="925.7" y1="20.2" x2="925.7" y2="41.7" stroke="#3a3a3a" stroke-width="1.4"/>
<line x1="1000.5" y1="20.2" x2="1000.5" y2="41.7" stroke="#3a3a3a" stroke-width="1.4"/>
<line x1="1067.4" y1="20.2" x2="1067.4" y2="41.7" stroke="#3a3a3a" stroke-width="1.4"/>
<line x1="1079.9" y1="20.2" x2="1079.9" y2="41.7" stroke="#3a3a3a" stroke-width="1.4"/>
<line x1="1181.8" y1="20.2" x2="1181.8" y2="41.7" stroke="#3a3a3a" stroke-width="1.4"/>
<line x1="1236.2" y1="20.2" x2="1236.2" y2="41.7" stroke="#3a3a3a" stroke-width="1.4"/>
<line x1="1320.7" y1="20.2" x2="1320.7" y2="41.7" stroke="#3a3a3a" stroke-width="1.4"/>
<line x1="1348.3" y1="20.2" x2="1348.3" y2="41.7" stroke="#3a3a3a" stroke-width="1.4"/>
<line x1="1393.3" y1="20.2" x2="1393.3" y2="41.7" stroke="#3a3a3a" stroke-width="1.4"/>
<line x1="1458.3" y1="20.2" x2="1458.3" y2="41.7" stroke="#3a3a3a" stroke-width="1.4"/>
<line x1="1539.3" y1="20.2" x2="1539.3" y2="41.7" stroke="#3a3a3a" stroke-width="1.4"/>
<line x1="1569.7" y1="20.2" x2="1569.7" y2="41.7" stroke="#3a3a3a" stroke-width="1.4"/>
<text x="618" y="211.9" font-size="29" fill="#000" text-anchor="start" style="font-family:'Liberation Sans',Arial,Helvetica,sans-serif" font-weight="bold">d.</text>
<text transform="translate(649.3,268.1) rotate(-90)" font-size="19" fill="#000" text-anchor="middle" style="font-family:'Liberation Sans',Arial,Helvetica,sans-serif">Pitch (A.U)</text>
<text x="726" y="231.8" font-size="16" fill="#000" text-anchor="middle" style="font-family:'Liberation Serif','Times New Roman',serif" >H*</text>
<line x1="726" y1="204" x2="726" y2="213" stroke="#555" stroke-width="1.3"/>
<line x1="726" y1="239.3" x2="726" y2="248.3" stroke="#555" stroke-width="1.3"/>
<text x="1050.8" y="231.5" font-size="16" fill="#000" text-anchor="middle" style="font-family:'Liberation Serif','Times New Roman',serif" >L+H*</text>
<line x1="1050.8" y1="204.5" x2="1050.8" y2="212.8" stroke="#555" stroke-width="1.3"/>
<line x1="1050.8" y1="239.3" x2="1050.8" y2="248.2" stroke="#555" stroke-width="1.3"/>
<text x="1290.1" y="231.5" font-size="16" fill="#000" text-anchor="middle" style="font-family:'Liberation Serif','Times New Roman',serif" >L+H*</text>
<line x1="1290.1" y1="204.5" x2="1290.1" y2="212.8" stroke="#555" stroke-width="1.3"/>
<line x1="1290.1" y1="239.3" x2="1290.1" y2="248.2" stroke="#555" stroke-width="1.3"/>
<text x="1495.3" y="231.5" font-size="16" fill="#000" text-anchor="middle" style="font-family:'Liberation Serif','Times New Roman',serif" >L*+H</text>
<line x1="1495.3" y1="204.5" x2="1495.3" y2="212.8" stroke="#555" stroke-width="1.3"/>
<line x1="1495.3" y1="239.3" x2="1495.3" y2="248.2" stroke="#555" stroke-width="1.3"/>
<text x="1626.8" y="229" font-size="16" fill="#000" text-anchor="middle" style="font-family:'Liberation Serif','Times New Roman',serif" >L*</text>
<line x1="1626.8" y1="202.4" x2="1626.8" y2="210.4" stroke="#555" stroke-width="1.3"/>
<line x1="1626.8" y1="237" x2="1626.8" y2="245.9" stroke="#555" stroke-width="1.3"/>
<path d="M668.3,325.6 L687.3,334.7" fill="none" stroke="#000" stroke-width="3.2"/>
<path d="M798,316.7 C799.1,318 802.9,321.9 804.7,324.5 C806.6,327.1 807.7,330.5 809.1,332.3 C810.5,334.1 811.7,335.4 813,335.4 C814.3,335.4 815.7,334.5 816.9,332.3 C818.1,330.1 819.1,324.8 820.3,322.3 C821.5,319.8 823,317.5 824.2,317.3 C825.4,317.1 826.3,319 827.5,321.1 C828.7,323.2 830,328.1 831.4,330 C832.8,331.9 834.1,332.1 835.8,332.8 C837.5,333.6 839.7,333.7 841.4,334.5 C843.1,335.3 844.4,337.2 845.9,337.8 C847.4,338.4 849.6,338.3 850.3,338.4" fill="none" stroke="#000" stroke-width="3.2"/>
<path d="M884.5,341.8 C885.5,342.6 888.6,345.5 890.6,346.9 C892.6,348.3 894,349.9 896.7,350 C899.4,350.1 903.8,348.5 906.9,347.6 C910,346.8 912.4,345.4 915.1,344.9 C917.8,344.3 921.9,344.4 923.3,344.3" fill="none" stroke="#000" stroke-width="3.2"/>
<path d="M960.4,334.3 C961.5,334.2 965.1,334.1 967.1,333.7 C969.1,333.2 969.7,331.7 972.2,331.6 C974.8,331.5 980.7,333 982.4,333.3" fill="none" stroke="#000" stroke-width="3.2"/>
<path d="M1008.6,320.4 C1009.5,321.2 1012.4,324 1014.1,325.1 C1015.8,326.2 1018,326.8 1018.8,327.1" fill="none" stroke="#000" stroke-width="3.2"/>
<path d="M1083.9,293 C1084.6,293.2 1086.6,293.2 1087.8,294.3 C1089,295.4 1090,297.7 1091,299.5 C1092,301.3 1092.6,303.8 1093.6,305.3 C1094.6,306.9 1096.4,308.2 1096.9,308.8" fill="none" stroke="#000" stroke-width="3.2"/>
<path d="M1128.7,300.1 C1129.3,300 1131,298.9 1132.6,299.5 C1134.2,300.1 1135.9,302.3 1138.4,303.4 C1140.9,304.5 1144.2,304.7 1147.5,306 C1150.8,307.3 1154.9,309.7 1157.9,311.2 C1160.9,312.7 1162.7,314 1165.7,315.1 C1168.7,316.2 1172.8,316.5 1176.1,317.7 C1179.3,318.9 1182.6,321.1 1185.2,322.2 C1187.8,323.3 1189.8,323.2 1191.7,324.2 C1193.7,325.2 1195.2,326.3 1196.9,328.1 C1198.6,329.9 1200.4,333.5 1202.1,335.2 C1203.8,336.9 1205.1,337.9 1207.3,338.2 C1209.5,338.5 1212.7,337.7 1215.1,337.1 C1217.5,336.5 1219.2,335.1 1221.6,334.5 C1224,333.9 1228.1,333.7 1229.4,333.5" fill="none" stroke="#000" stroke-width="3.2"/>
<path d="M1347.4,344.6 C1348.4,344.4 1351.7,343.9 1353.4,343.1 C1355.1,342.3 1356.1,340.8 1357.8,339.7 C1359.5,338.6 1362.8,337.3 1363.8,336.8" fill="none" stroke="#000" stroke-width="3.2"/>
<path d="M1390.5,325.6 C1391.5,326.2 1394.4,327.9 1396.4,328.9 C1398.4,329.8 1400.4,330.9 1402.4,331.3 C1404.4,331.8 1406.7,332 1408.3,331.6 C1409.9,331.2 1411.4,329.3 1412,328.9" fill="none" stroke="#000" stroke-width="3.2"/>
<path d="M1441,309.3 C1442,309.7 1444.8,310.4 1446.9,311.5 C1449,312.6 1452.4,312.2 1453.6,316 C1454.8,319.8 1454,327.2 1454.3,334.5 C1454.6,341.8 1455,356.3 1455.5,359.8 C1456,363.3 1456.3,355.8 1457.3,355.3 C1458.3,354.8 1461,356.6 1461.7,356.8" fill="none" stroke="#000" stroke-width="3.2"/>
<path d="M1528.4,196.7 C1528.9,197.2 1530.2,198.2 1531.1,200 C1532,201.8 1532.9,206 1533.8,207.8 C1534.7,209.7 1535.7,209.3 1536.7,211.1 C1537.7,212.9 1538.5,217.2 1539.6,218.4 C1540.7,219.6 1542.1,217.2 1543.3,218.4 C1544.5,219.6 1545.4,220.3 1546.7,225.6 C1548,230.9 1549.8,241.9 1551.1,250 C1552.4,258.1 1553.4,266.7 1554.4,274.4 C1555.4,282.1 1556.8,292.6 1557.3,296.2" fill="none" stroke="#000" stroke-width="3.2"/>
<path d="M713.3,352 C713.4,350.3 713.8,344.9 714.2,342 C714.7,339.1 715.1,336.4 716,334.5 C716.9,332.6 717.8,331.4 719.5,330.5 C721.2,329.6 723.8,328.9 726.5,329.2 C729.2,329.5 732.3,331 735.5,332.3 C738.7,333.6 742.3,336.7 745.5,337.2 C748.7,337.7 751.9,335.8 754.5,335.5 C757.1,335.2 759.2,334.9 761,335.2 C762.8,335.4 764.1,336 765,337 C765.9,338 766.1,339.7 766.5,341 C766.9,342.3 767.2,344.3 767.3,345" fill="none" stroke="#EDB120" stroke-width="8.6"/>
<path d="M1042.2,272.3 C1042.8,271.7 1043.9,269.9 1045.6,268.9 C1047.3,267.9 1050.1,266.5 1052.3,266.1 C1054.5,265.7 1057.5,266.4 1059,266.7 C1060.5,267 1060.8,267.6 1061.2,267.8" fill="none" stroke="#0072BD" stroke-width="9"/>
<path d="M1260.6,286.2 C1261.6,285.9 1264.8,285.3 1266.7,284.5 C1268.7,283.7 1270.4,283.8 1272.3,281.2 C1274.2,278.6 1275.9,272.2 1277.9,269 C1279.9,265.8 1282.5,263.5 1284.5,261.7 C1286.5,259.9 1288.2,258.3 1290.1,258.4 C1292,258.5 1294,260.4 1295.7,262.3 C1297.4,264.2 1298.8,267.9 1300.1,270.1 C1301.4,272.3 1302.6,273.9 1303.5,275.6 C1304.4,277.3 1305.2,278.2 1305.7,280.1 C1306.2,282 1306.6,285.7 1306.8,286.8" fill="none" stroke="#0072BD" stroke-width="10.5"/>
<path d="M1483.9,349.8 C1484.1,347.9 1484.6,342.7 1484.9,338.7 C1485.2,334.7 1485.3,328.9 1485.8,325.7 C1486.2,322.4 1486.2,321 1487.6,319.2 C1489,317.4 1492.1,316.8 1494.1,314.6 C1496.1,312.4 1498.2,309.6 1499.7,306.2 C1501.2,302.8 1502.5,297.8 1503.4,294.1 C1504.3,290.4 1504.5,286.4 1505.3,283.9 C1506.1,281.4 1507.5,280.1 1508.5,279 C1509.5,277.9 1510.6,277.9 1511.5,277.6 C1512.4,277.3 1513.6,277.4 1514,277.4" fill="none" stroke="#D95319" stroke-width="10.5"/>
<path d="M1612,321.5 C1613.1,322.3 1615.9,324.8 1618.5,326.2 C1621.1,327.6 1624.9,328.6 1627.4,329.8 C1629.9,331 1631.3,331.8 1633.3,333.2 C1635.3,334.6 1638.3,337.4 1639.3,338.3" fill="none" stroke="#7E2F8E" stroke-width="10.5"/>
<text x="618" y="364.5" font-size="29" fill="#000" text-anchor="start" style="font-family:'Liberation Sans',Arial,Helvetica,sans-serif" font-weight="bold">e.</text>
<text transform="translate(648.5,410) rotate(-90)" font-size="19.3" text-anchor="middle" style="font-family:'Liberation Sans',Arial,Helvetica,sans-serif">h<tspan font-style="italic">γ</tspan> (z)</text>
<path d="M654.5,373.5 C655.1,372.8 656.8,370 658,369 C659.2,368 660.7,367.2 662,367.5 C663.3,367.8 664.4,365.6 666,371 C667.6,376.4 669.8,388.8 671.5,400 C673.2,411.2 675.2,430.1 676.5,438 C677.8,445.9 678.4,446.2 679.5,447.5 C680.6,448.8 681.8,447.2 683,446 C684.2,444.8 685,441.7 686.5,440 C688,438.3 690.4,435.9 692.3,435.7 C694.2,435.5 696,436.9 697.9,439 C699.8,441.1 701.6,446.1 703.5,448 C705.4,449.9 706.8,449.6 709,450.2 C711.2,450.8 714.4,450.8 716.8,451.3 C719.2,451.9 721.5,452.8 723.5,453.5 C725.5,454.2 727.1,455.9 729,455.3 C730.9,454.8 732.6,454.9 734.6,450.2 C736.6,445.4 739.1,433.5 741.3,426.8 C743.5,420.1 746.1,412 748,410.1 C749.9,408.2 750.9,410.7 752.4,415.7 C753.9,420.7 755,435 756.9,440.2 C758.8,445.4 761.5,444.3 763.6,446.9 C765.7,449.5 767.4,455.8 769.2,455.8 C771.1,455.8 772.7,450.6 774.7,446.9 C776.7,443.2 779.4,435 781.4,433.5 C783.4,432 785.1,435.4 787,438 C788.9,440.6 790.5,446.7 792.5,449.1 C794.5,451.5 796.6,451.7 799.2,452.4 C801.8,453.1 805.3,453.9 808.1,453.5 C810.9,453.1 812.9,454.1 815.9,450.2 C818.9,446.3 823.2,433 826,430.2 C828.8,427.4 830.4,430.5 832.6,433.5 C834.8,436.5 837.1,445.6 839.3,448 C841.5,450.4 843.6,448.4 846,448 C848.4,447.6 851.2,446.6 853.4,445.7 C855.5,444.8 857.2,442.9 858.9,442.9 C860.6,442.9 861.9,444.6 863.4,445.7 C864.9,446.8 866.1,448.8 867.8,449.5 C869.5,450.2 871.2,449.5 873.4,450.2 C875.6,450.9 879,453.2 881.2,453.5 C883.4,453.8 884.8,453.5 886.8,451.8 C888.8,450.1 891.5,448.4 893.5,443.5 C895.5,438.6 897.1,428.7 899,422.4 C900.9,416.1 902.9,407.2 904.6,405.7 C906.3,404.2 907.5,408.1 909,413.5 C910.5,418.9 912,430.6 913.5,438 C915,445.4 916.3,455.4 918,458 C919.7,460.6 921.6,456.8 923.5,453.5 C925.4,450.2 927.2,441.3 929.1,438 C931,434.7 932.7,433.1 934.7,433.5 C936.7,433.9 938.9,437.4 941.3,440.2 C943.7,443 946.9,449.3 949.1,450.2 C951.3,451.1 952.8,449.6 954.7,445.7 C956.6,441.8 958.6,430.1 960.3,426.8 C962,423.5 962.9,424.8 964.7,425.7 C966.6,426.6 969.5,431.8 971.4,432.4 C973.3,432.9 974,433.3 975.9,429 C977.8,424.7 980.1,412.3 982.5,406.8 C984.9,401.3 988.1,397 990.3,396.1 C992.5,395.2 993.8,395.7 995.9,401.2 C998,406.7 1000.4,421 1002.6,429 C1004.8,437 1007.3,443.2 1009.3,449 C1011.3,454.8 1012.9,462.9 1014.8,463.6 C1016.6,464.4 1018.4,458.1 1020.4,453.5 C1022.4,448.9 1024.9,439.6 1027.1,435.7 C1029.3,431.8 1032.2,431.1 1033.8,430.2 C1035.4,429.3 1035.1,431.5 1036.7,430.2 C1038.3,428.9 1041.4,423.1 1043.4,422.4 C1045.4,421.6 1047.4,424.3 1048.9,425.7 C1050.4,427.1 1050.8,429.3 1052.3,430.8 C1053.8,432.3 1055.9,431.6 1057.8,434.6 C1059.7,437.7 1061.7,444.5 1063.4,449.1 C1065.1,453.7 1066.2,460.9 1067.9,462.4 C1069.6,463.9 1071.4,461.7 1073.4,458 C1075.4,454.3 1077.9,445.9 1080.1,440.2 C1082.3,434.4 1084.9,426.1 1086.8,423.5 C1088.7,420.9 1089.3,422.4 1091.2,424.6 C1093.1,426.8 1095.9,433.8 1097.9,436.8 C1100,439.8 1101.5,440.9 1103.5,442.4 C1105.5,443.9 1107.8,446.1 1110.2,445.7 C1112.6,445.3 1115.2,442.8 1118,440.2 C1120.8,437.6 1124.3,430.8 1126.9,430.2 C1129.5,429.6 1131.6,432.9 1133.6,436.8 C1135.6,440.7 1137.2,450.3 1139.1,453.5 C1140.9,456.7 1142.3,456.5 1144.7,455.8 C1147.1,455.1 1151.2,450 1153.6,449.1 C1156,448.2 1157,449 1159.2,450.2 C1161.4,451.4 1164.8,455.4 1167,456.2 C1169.2,456.9 1170.7,456.2 1172.5,454.7 C1174.3,453.2 1176.2,448.4 1178.1,447.3 C1180,446.2 1182,447.6 1183.7,448 C1185.4,448.4 1185.9,450.2 1188.1,449.5 C1190.3,448.8 1194.4,446.9 1197,443.5 C1199.6,440.1 1201.7,432.9 1203.7,429 C1205.8,425.1 1207.6,420.5 1209.3,420.1 C1211,419.7 1212,421.6 1213.7,426.8 C1215.4,432 1217.4,444.7 1219.3,451.3 C1221.2,457.9 1223.1,464.6 1224.9,466.5 C1226.7,468.4 1228,464.1 1230,462.4 C1232,460.7 1234.7,456.8 1236.7,456.2 C1238.8,455.6 1240.5,457.3 1242.3,459.1 C1244.1,460.9 1245.9,464.9 1247.8,466.9 C1249.7,468.9 1251.5,470.9 1253.4,470.9 C1255.3,470.9 1257.2,469.4 1259,466.9 C1260.8,464.4 1262.7,458.2 1264.5,455.8 C1266.3,453.4 1268.4,452 1270.1,452.4 C1271.8,452.8 1273.1,456.4 1274.6,458 C1276.1,459.6 1277,461.7 1279,462 C1281,462.3 1284.2,460.8 1286.8,459.8 C1289.4,458.8 1292.4,456.1 1294.6,455.8 C1296.8,455.5 1298.5,456.9 1300.2,458 C1301.9,459.1 1302.8,461.4 1304.6,462.4 C1306.4,463.4 1309.1,464 1311.3,464.2 C1313.5,464.4 1315.8,465.8 1318,463.6 C1320.2,461.5 1322.5,455.8 1324.7,451.3 C1326.9,446.8 1329.2,439.8 1331.4,436.8 C1333.6,433.8 1335.8,432.9 1338,433.5 C1340.2,434.1 1342.1,436.5 1344.7,440.2 C1347.3,443.9 1351,452.2 1353.6,455.8 C1356.2,459.4 1358.2,461.4 1360.3,462 C1362.3,462.6 1364.1,461.6 1365.9,459.1 C1367.8,456.6 1369.6,449.9 1371.4,446.9 C1373.2,443.9 1375.1,443.4 1377,441.3 C1378.9,439.2 1380.9,435.2 1382.6,434.6 C1384.3,434.1 1385.3,434.5 1387,438 C1388.7,441.5 1390.7,450.4 1392.6,455.8 C1394.5,461.2 1396.5,466.9 1398.2,470.2 C1399.9,473.5 1400.8,476.4 1402.6,475.8 C1404.4,475.2 1407.1,470.8 1409.3,466.9 C1411.5,463 1414.2,455.2 1416,452.4 C1417.8,449.6 1418.4,450.2 1420,450.2 C1421.6,450.2 1423.7,451.2 1425.6,452.4 C1427.5,453.6 1429.2,456.7 1431.2,457.6 C1433.2,458.5 1435.8,457.2 1437.8,457.6 C1439.8,458 1441.4,458.9 1443.4,460.2 C1445.5,461.4 1447.9,464.4 1450.1,465.1 C1452.3,465.9 1454.9,465.7 1456.8,464.7 C1458.7,463.7 1459.5,461.7 1461.2,459.1 C1462.9,456.5 1465.1,450.3 1466.8,449.1 C1468.5,447.9 1469.7,450.5 1471.2,451.8 C1472.7,453.1 1474,459.6 1475.7,456.9 C1477.4,454.2 1479.2,442.1 1481.3,435.7 C1483.3,429.3 1486,420.4 1488,418.4 C1490,416.4 1491.7,420.1 1493.5,423.5 C1495.3,426.9 1497,435.6 1499.1,439.1 C1501.1,442.6 1503.4,443.3 1505.8,444.6 C1508.2,445.9 1511.2,447.8 1513.6,446.9 C1516,446 1518.2,440.6 1520.2,439.1 C1522.2,437.6 1524.1,437.1 1525.8,438 C1527.5,438.9 1528.8,442.3 1530.3,444.6 C1531.8,446.9 1532.8,450.7 1534.7,451.8 C1536.6,452.9 1539.2,450.8 1541.4,451.3 C1543.6,451.8 1545.5,453.9 1548.1,454.7 C1550.7,455.4 1553.7,455.6 1557,455.8 C1560.3,456 1564.9,456.9 1568.1,455.8 C1571.2,454.7 1573.5,453.9 1575.9,449.1 C1578.3,444.3 1580.4,434.6 1582.6,426.8 C1584.8,419 1587.2,405.6 1589.3,402.3 C1591.3,399 1592.9,400.9 1594.9,406.8 C1596.9,412.8 1599.5,430 1601.5,438 C1603.5,446 1604.9,453.1 1607.1,454.7 C1609.3,456.3 1612.3,450.4 1614.7,447.9 C1617.1,445.4 1619.2,441.1 1621.4,439.6 C1623.6,438.1 1626.1,440.1 1628,439 C1629.9,437.9 1631.1,434.6 1633,433 C1634.9,431.4 1637.1,428.6 1639.6,429.7 C1642.1,430.8 1645.7,435.7 1647.9,439.6 C1650.1,443.5 1651.1,448.2 1652.9,452.9 C1654.7,457.5 1657.8,465.1 1658.8,467.5" fill="none" stroke="#A2142F" stroke-width="7.3" stroke-linejoin="round"/>
<path d="M652.8,503 H1666.2 M652.8,496.2 V509.8 M1666.2,496.2 V509.8" fill="none" stroke="#000" stroke-width="2"/>
<text x="632.8" y="534.2" font-size="18.8" fill="#000" text-anchor="start" style="font-family:'Liberation Sans',Arial,Helvetica,sans-serif" >50.13</text>
<text x="1637.7" y="529.8" font-size="18.5" fill="#000" text-anchor="start" style="font-family:'Liberation Sans',Arial,Helvetica,sans-serif" >53.94</text>
<text x="1030.2" y="534.8" font-size="21.8" fill="#000" text-anchor="start" style="font-family:'Liberation Sans',Arial,Helvetica,sans-serif" >Time (ms)</text>
<text x="1675.6" y="21.2" font-size="27.5" fill="#000" text-anchor="start" style="font-family:'Liberation Sans',Arial,Helvetica,sans-serif" font-weight="bold">c.</text>
<text x="1798.2" y="14.9" font-size="18.5" fill="#000" text-anchor="start" style="font-family:'Liberation Sans',Arial,Helvetica,sans-serif" >Intensity envelope</text>
<g clip-path="url(#cclip)">
<path d="M1736,141 C1746.7,142 1784.2,145.3 1800,147 C1815.8,148.7 1822.7,156.2 1831,151 C1839.3,145.8 1844,125.3 1849.6,115.7 C1855.2,106.1 1859.6,95.3 1864.5,93.4 C1869.4,91.5 1873.4,98.9 1879,104.5 C1884.6,110.1 1891.1,121.2 1897.9,126.8 C1904.7,132.4 1910.2,135.8 1920,138 C1929.8,140.2 1944.3,139.5 1957,139.8 C1969.7,140.1 1989.5,139.8 1996,139.8" fill="none" stroke="#0072BD" stroke-width="9"/>
<path d="M1736,99 C1736.7,99.1 1738.7,99.2 1740,99.4 C1741.3,99.5 1742.7,99.6 1744,99.7 C1745.3,99.9 1746.7,100 1748,100.1 C1749.3,100.2 1750.7,100.3 1752,100.5 C1753.3,100.6 1754.7,100.7 1756,100.8 C1757.3,101 1758.7,101.1 1760,101.2 C1761.3,101.3 1762.7,101.4 1764,101.6 C1765.3,101.7 1766.7,101.8 1768,101.9 C1769.3,102.1 1770.7,102.2 1772,102.3 C1773.3,102.4 1774.7,102.5 1776,102.7 C1777.3,102.8 1778.7,102.9 1780,103 C1781.3,103.2 1782.7,103.3 1784,103.4 C1785.3,103.5 1786.7,103.7 1788,103.8 C1789.3,103.9 1790.7,104.1 1792,104.2 C1793.3,104.3 1794.7,104.5 1796,104.6 C1797.3,104.7 1798.7,104.8 1800,105 C1801.3,105.2 1802.7,105.3 1804,105.6 C1805.3,105.8 1806.7,106.1 1808,106.4 C1809.3,106.8 1810.7,107.2 1812,107.6 C1813.3,108 1814.7,108.4 1816,108.8 C1817.3,109.3 1818.7,109.7 1820,110.1 C1821.3,110.4 1822.7,110.8 1824,110.8 C1825.3,110.9 1826.7,110.9 1828,110.5 C1829.3,110.1 1830.7,109.6 1832,108.6 C1833.3,107.5 1834.7,106.2 1836,104.3 C1837.3,102.4 1838.7,99.9 1840,97.3 C1841.3,94.6 1842.7,91.3 1844,88.4 C1845.3,85.5 1846.7,82.4 1848,79.9 C1849.3,77.5 1850.7,75.8 1852,73.7 C1853.3,71.6 1854.7,69.4 1856,67.4 C1857.3,65.4 1858.7,63.4 1860,61.9 C1861.3,60.4 1862.7,59.2 1864,58.6 C1865.3,58 1866.7,58.1 1868,58.5 C1869.3,58.9 1870.7,60.1 1872,61.1 C1873.3,62.1 1874.7,63.6 1876,64.7 C1877.3,65.8 1878.7,66.7 1880,67.9 C1881.3,69 1882.7,70.2 1884,71.5 C1885.3,72.8 1886.7,74.3 1888,75.8 C1889.3,77.2 1890.7,78.7 1892,80 C1893.3,81.4 1894.7,82.7 1896,83.8 C1897.3,85 1898.7,85.9 1900,86.9 C1901.3,87.8 1902.7,88.7 1904,89.6 C1905.3,90.4 1906.7,91.2 1908,91.9 C1909.3,92.5 1910.7,93.1 1912,93.6 C1913.3,94.2 1914.7,94.6 1916,95 C1917.3,95.4 1918.7,95.7 1920,96 C1921.3,96.3 1922.7,96.5 1924,96.7 C1925.3,96.9 1926.7,97 1928,97.1 C1929.3,97.3 1930.7,97.3 1932,97.4 C1933.3,97.5 1934.7,97.5 1936,97.6 C1937.3,97.6 1938.7,97.6 1940,97.6 C1941.3,97.7 1942.7,97.7 1944,97.7 C1945.3,97.7 1946.7,97.7 1948,97.7 C1949.3,97.7 1950.7,97.7 1952,97.7 C1953.3,97.7 1954.7,97.8 1956,97.8 C1957.3,97.8 1958.7,97.8 1960,97.9 C1961.3,97.9 1962.7,97.9 1964,97.9 C1965.3,97.9 1966.7,97.9 1968,97.9 C1969.3,97.9 1970.7,97.9 1972,97.9 C1973.3,97.9 1974.7,97.9 1976,97.9 C1977.3,97.9 1978.7,97.9 1980,97.9 C1981.3,97.9 1982.7,97.9 1984,97.9 C1985.3,97.9 1986.7,97.9 1988,97.8 C1989.3,97.8 1990.7,97.8 1992,97.8 C1993.3,97.8 1995,97.8 1996,97.8 C1997,97.8 1997.7,97.8 1998,97.8 L1998,181.8 C1997.7,181.8 1997,181.8 1996,181.8 C1995,181.8 1993.3,181.8 1992,181.8 C1990.7,181.8 1989.3,181.8 1988,181.8 C1986.7,181.9 1985.3,181.9 1984,181.9 C1982.7,181.9 1981.3,181.9 1980,181.9 C1978.7,181.9 1977.3,181.9 1976,181.9 C1974.7,181.9 1973.3,181.9 1972,181.9 C1970.7,181.9 1969.3,181.9 1968,181.9 C1966.7,181.9 1965.3,181.9 1964,181.9 C1962.7,181.9 1961.3,181.9 1960,181.9 C1958.7,181.8 1957.3,181.8 1956,181.8 C1954.7,181.8 1953.3,181.7 1952,181.7 C1950.7,181.7 1949.3,181.7 1948,181.7 C1946.7,181.7 1945.3,181.7 1944,181.7 C1942.7,181.7 1941.3,181.7 1940,181.6 C1938.7,181.6 1937.3,181.6 1936,181.6 C1934.7,181.5 1933.3,181.5 1932,181.4 C1930.7,181.3 1929.3,181.3 1928,181.1 C1926.7,181 1925.3,180.9 1924,180.7 C1922.7,180.5 1921.3,180.3 1920,180 C1918.7,179.7 1917.3,179.4 1916,179 C1914.7,178.6 1913.3,178.1 1912,177.6 C1910.7,177 1909.3,176.4 1908,175.7 C1906.7,175 1905.3,174.1 1904,173.2 C1902.7,172.3 1901.3,171.2 1900,170.1 C1898.7,168.9 1897.3,167.8 1896,166.4 C1894.7,164.9 1893.3,163.2 1892,161.4 C1890.7,159.6 1889.3,157.6 1888,155.6 C1886.7,153.6 1885.3,151.3 1884,149.3 C1882.7,147.2 1881.3,145.2 1880,143.3 C1878.7,141.4 1877.3,139.6 1876,137.8 C1874.7,135.9 1873.3,133.8 1872,132.3 C1870.7,130.8 1869.3,129.2 1868,128.6 C1866.7,128 1865.3,128 1864,128.7 C1862.7,129.5 1861.3,131.1 1860,133.1 C1858.7,135.1 1857.3,137.8 1856,140.5 C1854.7,143.2 1853.3,146.2 1852,149.1 C1850.7,152 1849.3,154.5 1848,157.7 C1846.7,160.9 1845.3,164.7 1844,168.2 C1842.7,171.7 1841.3,175.6 1840,178.7 C1838.7,181.8 1837.3,184.6 1836,186.8 C1834.7,189 1833.3,190.6 1832,191.8 C1830.7,193 1829.3,193.7 1828,194.1 C1826.7,194.6 1825.3,194.7 1824,194.7 C1822.7,194.6 1821.3,194.3 1820,194 C1818.7,193.7 1817.3,193.2 1816,192.8 C1814.7,192.4 1813.3,192 1812,191.6 C1810.7,191.2 1809.3,190.8 1808,190.4 C1806.7,190.1 1805.3,189.8 1804,189.6 C1802.7,189.3 1801.3,189.2 1800,189 C1798.7,188.8 1797.3,188.7 1796,188.6 C1794.7,188.5 1793.3,188.3 1792,188.2 C1790.7,188.1 1789.3,187.9 1788,187.8 C1786.7,187.7 1785.3,187.5 1784,187.4 C1782.7,187.3 1781.3,187.2 1780,187 C1778.7,186.9 1777.3,186.8 1776,186.7 C1774.7,186.5 1773.3,186.4 1772,186.3 C1770.7,186.2 1769.3,186.1 1768,185.9 C1766.7,185.8 1765.3,185.7 1764,185.6 C1762.7,185.4 1761.3,185.3 1760,185.2 C1758.7,185.1 1757.3,185 1756,184.8 C1754.7,184.7 1753.3,184.6 1752,184.5 C1750.7,184.3 1749.3,184.2 1748,184.1 C1746.7,184 1745.3,183.9 1744,183.7 C1742.7,183.6 1741.3,183.5 1740,183.4 C1738.7,183.2 1736.7,183.1 1736,183 Z" fill="#0072BD" fill-opacity="0.2"/>
<path d="M1736,97.8 C1736.7,97.9 1738.7,98.1 1740,98.2 C1741.3,98.4 1742.7,98.5 1744,98.7 C1745.3,98.8 1746.7,99 1748,99.1 C1749.3,99.3 1750.7,99.4 1752,99.6 C1753.3,99.7 1754.7,99.8 1756,100 C1757.3,100.1 1758.7,100.3 1760,100.4 C1761.3,100.6 1762.7,100.7 1764,100.9 C1765.3,101 1766.7,101.2 1768,101.3 C1769.3,101.5 1770.7,101.6 1772,101.8 C1773.3,101.9 1774.7,102.1 1776,102.2 C1777.3,102.4 1778.7,102.5 1780,102.7 C1781.3,102.8 1782.7,103 1784,103.1 C1785.3,103.3 1786.7,103.5 1788,103.6 C1789.3,103.8 1790.7,104 1792,104.1 C1793.3,104.3 1794.7,104.5 1796,104.6 C1797.3,104.8 1798.7,105 1800,105.2 C1801.3,105.4 1802.7,105.6 1804,105.9 C1805.3,106.1 1806.7,106.4 1808,106.7 C1809.3,107 1810.7,107.4 1812,107.8 C1813.3,108.2 1814.7,108.7 1816,109.1 C1817.3,109.5 1818.7,110 1820,110.3 C1821.3,110.6 1822.7,110.7 1824,110.9 C1825.3,111.1 1826.7,111.3 1828,111.5 C1829.3,111.7 1830.7,112 1832,112.2 C1833.3,112.5 1834.7,112.7 1836,112.8 C1837.3,113 1838.7,113.1 1840,113 C1841.3,112.9 1842.7,112.8 1844,112.4 C1845.3,111.9 1846.7,111.3 1848,110.2 C1849.3,109.1 1850.7,107.5 1852,105.8 C1853.3,104.1 1854.7,102 1856,99.9 C1857.3,97.8 1858.7,95.4 1860,93.2 C1861.3,91 1862.7,88.7 1864,86.9 C1865.3,85 1866.7,83.3 1868,81.9 C1869.3,80.4 1870.7,79.1 1872,78 C1873.3,77 1874.7,76.2 1876,75.3 C1877.3,74.4 1878.7,73.6 1880,72.9 C1881.3,72.2 1882.7,71.6 1884,71.1 C1885.3,70.6 1886.7,70.2 1888,69.9 C1889.3,69.6 1890.7,69.4 1892,69.3 C1893.3,69.2 1894.7,69.2 1896,69.4 C1897.3,69.5 1898.7,69.7 1900,69.9 C1901.3,70.2 1902.7,70.5 1904,70.9 C1905.3,71.2 1906.7,71.6 1908,72.1 C1909.3,72.5 1910.7,73 1912,73.5 C1913.3,74 1914.7,74.5 1916,75.1 C1917.3,75.8 1918.7,76.5 1920,77.2 C1921.3,77.9 1922.7,78.7 1924,79.4 C1925.3,80.1 1926.7,80.9 1928,81.5 C1929.3,82.2 1930.7,82.7 1932,83.3 C1933.3,83.9 1934.7,84.4 1936,84.9 C1937.3,85.5 1938.7,86 1940,86.6 C1941.3,87.1 1942.7,87.6 1944,88.1 C1945.3,88.6 1946.7,89.1 1948,89.5 C1949.3,90 1950.7,90.4 1952,90.8 C1953.3,91.2 1954.7,91.5 1956,91.9 C1957.3,92.2 1958.7,92.5 1960,92.8 C1961.3,93.1 1962.7,93.3 1964,93.5 C1965.3,93.8 1966.7,94 1968,94.2 C1969.3,94.4 1970.7,94.6 1972,94.8 C1973.3,94.9 1974.7,95.1 1976,95.2 C1977.3,95.4 1978.7,95.5 1980,95.6 C1981.3,95.7 1982.7,95.9 1984,95.9 C1985.3,96 1986.7,96.1 1988,96 C1989.3,95.8 1990.7,95.7 1992,95.1 C1993.3,94.5 1995,92.7 1996,92.2 C1997,91.7 1997.7,92.2 1998,92.2 L1998,176.2 C1997.7,176.2 1997,175.7 1996,176.2 C1995,176.7 1993.3,178.5 1992,179.1 C1990.7,179.7 1989.3,179.8 1988,180 C1986.7,180.1 1985.3,180 1984,179.9 C1982.7,179.9 1981.3,179.7 1980,179.6 C1978.7,179.5 1977.3,179.4 1976,179.2 C1974.7,179.1 1973.3,178.9 1972,178.8 C1970.7,178.6 1969.3,178.4 1968,178.2 C1966.7,178 1965.3,177.8 1964,177.5 C1962.7,177.3 1961.3,177.1 1960,176.8 C1958.7,176.5 1957.3,176.2 1956,175.9 C1954.7,175.5 1953.3,175.2 1952,174.8 C1950.7,174.4 1949.3,174 1948,173.5 C1946.7,173.1 1945.3,172.6 1944,172.1 C1942.7,171.6 1941.3,171.1 1940,170.6 C1938.7,170 1937.3,169.5 1936,168.9 C1934.7,168.4 1933.3,167.9 1932,167.3 C1930.7,166.7 1929.3,166.2 1928,165.5 C1926.7,164.9 1925.3,164.1 1924,163.4 C1922.7,162.7 1921.3,161.9 1920,161.2 C1918.7,160.5 1917.3,159.7 1916,159.1 C1914.7,158.5 1913.3,157.9 1912,157.4 C1910.7,156.9 1909.3,156.4 1908,155.9 C1906.7,155.4 1905.3,154.9 1904,154.5 C1902.7,154 1901.3,153.6 1900,153.1 C1898.7,152.7 1897.3,152.3 1896,151.9 C1894.7,151.5 1893.3,151.1 1892,150.7 C1890.7,150.3 1889.3,150 1888,149.7 C1886.7,149.4 1885.3,149.1 1884,148.9 C1882.7,148.6 1881.3,148.4 1880,148.3 C1878.7,148.3 1877.3,148.2 1876,148.4 C1874.7,148.5 1873.3,148.7 1872,149.3 C1870.7,149.9 1869.3,150.7 1868,152 C1866.7,153.3 1865.3,154.9 1864,157 C1862.7,159.1 1861.3,161.7 1860,164.4 C1858.7,167.1 1857.3,170.2 1856,173 C1854.7,175.8 1853.3,178.8 1852,181.3 C1850.7,183.7 1849.3,186.1 1848,188 C1846.7,189.8 1845.3,191.1 1844,192.2 C1842.7,193.3 1841.3,193.9 1840,194.4 C1838.7,195 1837.3,195.2 1836,195.4 C1834.7,195.5 1833.3,195.5 1832,195.5 C1830.7,195.4 1829.3,195.3 1828,195.1 C1826.7,195 1825.3,194.9 1824,194.8 C1822.7,194.6 1821.3,194.5 1820,194.2 C1818.7,194 1817.3,193.5 1816,193.1 C1814.7,192.7 1813.3,192.2 1812,191.8 C1810.7,191.4 1809.3,191 1808,190.7 C1806.7,190.4 1805.3,190.1 1804,189.9 C1802.7,189.6 1801.3,189.4 1800,189.2 C1798.7,189 1797.3,188.8 1796,188.6 C1794.7,188.5 1793.3,188.3 1792,188.1 C1790.7,188 1789.3,187.8 1788,187.6 C1786.7,187.5 1785.3,187.3 1784,187.1 C1782.7,187 1781.3,186.8 1780,186.7 C1778.7,186.5 1777.3,186.4 1776,186.2 C1774.7,186.1 1773.3,185.9 1772,185.8 C1770.7,185.6 1769.3,185.5 1768,185.3 C1766.7,185.2 1765.3,185 1764,184.9 C1762.7,184.7 1761.3,184.6 1760,184.4 C1758.7,184.3 1757.3,184.1 1756,184 C1754.7,183.8 1753.3,183.7 1752,183.6 C1750.7,183.4 1749.3,183.3 1748,183.1 C1746.7,183 1745.3,182.8 1744,182.7 C1742.7,182.5 1741.3,182.4 1740,182.2 C1738.7,182.1 1736.7,181.9 1736,181.8 Z" fill="#D95319" fill-opacity="0.2"/>
<path d="M1736,107 C1736.7,107.1 1738.7,107.2 1740,107.3 C1741.3,107.5 1742.7,107.6 1744,107.7 C1745.3,107.8 1746.7,107.9 1748,108 C1749.3,108.1 1750.7,108.3 1752,108.4 C1753.3,108.5 1754.7,108.6 1756,108.7 C1757.3,108.8 1758.7,108.9 1760,109.1 C1761.3,109.2 1762.7,109.3 1764,109.4 C1765.3,109.5 1766.7,109.6 1768,109.7 C1769.3,109.9 1770.7,110 1772,110.1 C1773.3,110.2 1774.7,110.3 1776,110.4 C1777.3,110.5 1778.7,110.7 1780,110.8 C1781.3,110.9 1782.7,111 1784,111.1 C1785.3,111.3 1786.7,111.4 1788,111.5 C1789.3,111.6 1790.7,111.7 1792,111.9 C1793.3,112 1794.7,112.1 1796,112.2 C1797.3,112.3 1798.7,112.5 1800,112.6 C1801.3,112.7 1802.7,112.9 1804,113.1 C1805.3,113.3 1806.7,113.5 1808,113.7 C1809.3,114 1810.7,114.3 1812,114.6 C1813.3,114.9 1814.7,115.3 1816,115.7 C1817.3,116 1818.7,116.4 1820,116.7 C1821.3,117 1822.7,117.3 1824,117.5 C1825.3,117.6 1826.7,117.6 1828,117.4 C1829.3,117.2 1830.7,116.9 1832,116.3 C1833.3,115.6 1834.7,114.8 1836,113.6 C1837.3,112.4 1838.7,110.9 1840,109.3 C1841.3,107.6 1842.7,105.6 1844,103.7 C1845.3,101.8 1846.7,99.7 1848,97.8 C1849.3,96 1850.7,94.5 1852,92.7 C1853.3,90.9 1854.7,88.9 1856,86.9 C1857.3,84.8 1858.7,82.6 1860,80.5 C1861.3,78.3 1862.7,76.2 1864,74 C1865.3,71.9 1866.7,69.4 1868,67.4 C1869.3,65.4 1870.7,63.1 1872,62 C1873.3,60.9 1874.7,60.9 1876,60.9 C1877.3,60.9 1878.7,61.5 1880,62.2 C1881.3,62.8 1882.7,63.7 1884,64.7 C1885.3,65.7 1886.7,66.7 1888,68 C1889.3,69.3 1890.7,70.9 1892,72.5 C1893.3,74.2 1894.7,76.1 1896,77.8 C1897.3,79.5 1898.7,81.4 1900,83 C1901.3,84.6 1902.7,86.1 1904,87.4 C1905.3,88.7 1906.7,89.8 1908,90.9 C1909.3,92 1910.7,93.1 1912,94 C1913.3,95 1914.7,95.9 1916,96.7 C1917.3,97.5 1918.7,98.2 1920,98.8 C1921.3,99.4 1922.7,99.9 1924,100.4 C1925.3,100.9 1926.7,101.3 1928,101.6 C1929.3,101.9 1930.7,102.1 1932,102.3 C1933.3,102.5 1934.7,102.5 1936,102.6 C1937.3,102.6 1938.7,102.6 1940,102.6 C1941.3,102.6 1942.7,102.5 1944,102.4 C1945.3,102.3 1946.7,102.2 1948,102.1 C1949.3,102 1950.7,101.9 1952,101.8 C1953.3,101.8 1954.7,101.7 1956,101.6 C1957.3,101.5 1958.7,101.4 1960,101.3 C1961.3,101.2 1962.7,101.1 1964,101 C1965.3,100.9 1966.7,100.8 1968,100.7 C1969.3,100.6 1970.7,100.4 1972,100.3 C1973.3,100.2 1974.7,100 1976,99.9 C1977.3,99.8 1978.7,99.6 1980,99.5 C1981.3,99.4 1982.7,99.2 1984,99.1 C1985.3,98.9 1986.7,98.8 1988,98.6 C1989.3,98.5 1990.7,98.4 1992,98.2 C1993.3,98.1 1995,97.9 1996,97.8 C1997,97.7 1997.7,97.8 1998,97.8 L1998,181.8 C1997.7,181.8 1997,181.7 1996,181.8 C1995,181.9 1993.3,182.1 1992,182.2 C1990.7,182.4 1989.3,182.5 1988,182.6 C1986.7,182.8 1985.3,182.9 1984,183.1 C1982.7,183.2 1981.3,183.4 1980,183.5 C1978.7,183.6 1977.3,183.8 1976,183.9 C1974.7,184 1973.3,184.2 1972,184.3 C1970.7,184.4 1969.3,184.6 1968,184.7 C1966.7,184.8 1965.3,184.9 1964,185 C1962.7,185.1 1961.3,185.2 1960,185.3 C1958.7,185.4 1957.3,185.5 1956,185.6 C1954.7,185.7 1953.3,185.8 1952,185.8 C1950.7,185.9 1949.3,186 1948,186.1 C1946.7,186.2 1945.3,186.3 1944,186.4 C1942.7,186.5 1941.3,186.6 1940,186.6 C1938.7,186.6 1937.3,186.6 1936,186.6 C1934.7,186.5 1933.3,186.5 1932,186.3 C1930.7,186.1 1929.3,185.9 1928,185.6 C1926.7,185.3 1925.3,184.9 1924,184.4 C1922.7,183.9 1921.3,183.4 1920,182.8 C1918.7,182.1 1917.3,181.4 1916,180.6 C1914.7,179.8 1913.3,178.9 1912,178 C1910.7,177 1909.3,175.9 1908,174.8 C1906.7,173.6 1905.3,172.5 1904,171 C1902.7,169.6 1901.3,168 1900,166.2 C1898.7,164.4 1897.3,162.4 1896,160.3 C1894.7,158.3 1893.3,156 1892,154 C1890.7,151.9 1889.3,149.7 1888,147.8 C1886.7,145.9 1885.3,144.2 1884,142.5 C1882.7,140.8 1881.3,139 1880,137.6 C1878.7,136.2 1877.3,134.7 1876,134 C1874.7,133.3 1873.3,132.6 1872,133.2 C1870.7,133.8 1869.3,135.7 1868,137.5 C1866.7,139.4 1865.3,141.8 1864,144.2 C1862.7,146.5 1861.3,149 1860,151.7 C1858.7,154.3 1857.3,157.2 1856,160 C1854.7,162.7 1853.3,165.5 1852,168.1 C1850.7,170.7 1849.3,173 1848,175.6 C1846.7,178.2 1845.3,181 1844,183.5 C1842.7,186 1841.3,188.6 1840,190.7 C1838.7,192.8 1837.3,194.7 1836,196.1 C1834.7,197.6 1833.3,198.7 1832,199.5 C1830.7,200.3 1829.3,200.8 1828,201.1 C1826.7,201.4 1825.3,201.4 1824,201.3 C1822.7,201.2 1821.3,200.9 1820,200.6 C1818.7,200.4 1817.3,200 1816,199.6 C1814.7,199.3 1813.3,198.9 1812,198.6 C1810.7,198.3 1809.3,198 1808,197.7 C1806.7,197.5 1805.3,197.3 1804,197.1 C1802.7,196.9 1801.3,196.7 1800,196.6 C1798.7,196.5 1797.3,196.3 1796,196.2 C1794.7,196.1 1793.3,196 1792,195.9 C1790.7,195.7 1789.3,195.6 1788,195.5 C1786.7,195.4 1785.3,195.3 1784,195.1 C1782.7,195 1781.3,194.9 1780,194.8 C1778.7,194.7 1777.3,194.5 1776,194.4 C1774.7,194.3 1773.3,194.2 1772,194.1 C1770.7,194 1769.3,193.9 1768,193.7 C1766.7,193.6 1765.3,193.5 1764,193.4 C1762.7,193.3 1761.3,193.2 1760,193.1 C1758.7,192.9 1757.3,192.8 1756,192.7 C1754.7,192.6 1753.3,192.5 1752,192.4 C1750.7,192.3 1749.3,192.1 1748,192 C1746.7,191.9 1745.3,191.8 1744,191.7 C1742.7,191.6 1741.3,191.5 1740,191.3 C1738.7,191.2 1736.7,191.1 1736,191 Z" fill="#EDB120" fill-opacity="0.2"/>
<path d="M1736,97.8 C1736.7,97.8 1738.7,97.9 1740,98 C1741.3,98.1 1742.7,98.1 1744,98.2 C1745.3,98.2 1746.7,98.3 1748,98.4 C1749.3,98.4 1750.7,98.5 1752,98.6 C1753.3,98.6 1754.7,98.7 1756,98.8 C1757.3,98.8 1758.7,98.9 1760,99 C1761.3,99.1 1762.7,99.1 1764,99.2 C1765.3,99.2 1766.7,99.2 1768,99.3 C1769.3,99.3 1770.7,99.4 1772,99.4 C1773.3,99.5 1774.7,99.6 1776,99.8 C1777.3,99.9 1778.7,100.1 1780,100.4 C1781.3,100.7 1782.7,101 1784,101.4 C1785.3,101.8 1786.7,102.2 1788,102.7 C1789.3,103.1 1790.7,103.6 1792,104.1 C1793.3,104.6 1794.7,105.1 1796,105.6 C1797.3,106.1 1798.7,106.5 1800,107 C1801.3,107.5 1802.7,107.9 1804,108.4 C1805.3,108.8 1806.7,109.3 1808,109.7 C1809.3,110.2 1810.7,110.5 1812,111 C1813.3,111.5 1814.7,112.1 1816,112.6 C1817.3,113.1 1818.7,113.8 1820,114.2 C1821.3,114.5 1822.7,114.8 1824,114.7 C1825.3,114.7 1826.7,114.3 1828,114 C1829.3,113.6 1830.7,113.2 1832,112.6 C1833.3,112 1834.7,111.3 1836,110.3 C1837.3,109.3 1838.7,108.2 1840,106.5 C1841.3,104.8 1842.7,102.6 1844,100.2 C1845.3,97.8 1846.7,94.8 1848,92.1 C1849.3,89.4 1850.7,86.4 1852,84 C1853.3,81.5 1854.7,79.4 1856,77.5 C1857.3,75.6 1858.7,73.8 1860,72.5 C1861.3,71.1 1862.7,70.1 1864,69.5 C1865.3,68.8 1866.7,68.6 1868,68.6 C1869.3,68.5 1870.7,68.8 1872,69.1 C1873.3,69.5 1874.7,70 1876,70.6 C1877.3,71.1 1878.7,71.7 1880,72.4 C1881.3,73.1 1882.7,73.9 1884,74.8 C1885.3,75.7 1886.7,76.8 1888,77.9 C1889.3,79 1890.7,80.2 1892,81.4 C1893.3,82.6 1894.7,83.9 1896,85.2 C1897.3,86.4 1898.7,87.6 1900,88.9 C1901.3,90.2 1902.7,91.5 1904,92.9 C1905.3,94.2 1906.7,95.8 1908,97.2 C1909.3,98.6 1910.7,100 1912,101.2 C1913.3,102.5 1914.7,103.7 1916,104.6 C1917.3,105.6 1918.7,106.4 1920,107 C1921.3,107.6 1922.7,108 1924,108.3 C1925.3,108.7 1926.7,108.8 1928,109 C1929.3,109.1 1930.7,109.1 1932,109.2 C1933.3,109.2 1934.7,109.1 1936,109.1 C1937.3,109.1 1938.7,109 1940,109 C1941.3,109 1942.7,109 1944,109 C1945.3,109 1946.7,109.1 1948,109.1 C1949.3,109.1 1950.7,109.1 1952,109.1 C1953.3,109.2 1954.7,109.1 1956,109.1 C1957.3,109.1 1958.7,109.1 1960,109.1 C1961.3,109.1 1962.7,109.1 1964,109 C1965.3,109 1966.7,109 1968,109 C1969.3,109 1970.7,109 1972,109 C1973.3,109 1974.7,109 1976,109 C1977.3,109 1978.7,109 1980,109 C1981.3,109 1982.7,109 1984,109 C1985.3,109 1986.7,109 1988,109 C1989.3,109 1990.7,109 1992,109 C1993.3,109 1995,109 1996,109 C1997,109 1997.7,109 1998,109 L1998,193 C1997.7,193 1997,193 1996,193 C1995,193 1993.3,193 1992,193 C1990.7,193 1989.3,193 1988,193 C1986.7,193 1985.3,193 1984,193 C1982.7,193 1981.3,193 1980,193 C1978.7,193 1977.3,193 1976,193 C1974.7,193 1973.3,193 1972,193 C1970.7,193 1969.3,193 1968,193 C1966.7,193 1965.3,193 1964,193 C1962.7,193.1 1961.3,193.1 1960,193.1 C1958.7,193.1 1957.3,193.1 1956,193.1 C1954.7,193.1 1953.3,193.2 1952,193.1 C1950.7,193.1 1949.3,193.1 1948,193.1 C1946.7,193.1 1945.3,193 1944,193 C1942.7,193 1941.3,193 1940,193 C1938.7,193 1937.3,193.1 1936,193.1 C1934.7,193.1 1933.3,193.2 1932,193.2 C1930.7,193.1 1929.3,193.1 1928,193 C1926.7,192.8 1925.3,192.7 1924,192.3 C1922.7,192 1921.3,191.6 1920,191 C1918.7,190.4 1917.3,189.6 1916,188.6 C1914.7,187.6 1913.3,186.4 1912,185.2 C1910.7,183.9 1909.3,182.5 1908,181 C1906.7,179.6 1905.3,178 1904,176.5 C1902.7,175 1901.3,173.6 1900,172.1 C1898.7,170.6 1897.3,169.2 1896,167.7 C1894.7,166.1 1893.3,164.5 1892,162.8 C1890.7,161.2 1889.3,159.4 1888,157.7 C1886.7,156 1885.3,154.2 1884,152.6 C1882.7,150.9 1881.3,149.3 1880,147.8 C1878.7,146.3 1877.3,144.9 1876,143.7 C1874.7,142.4 1873.3,141.2 1872,140.3 C1870.7,139.5 1869.3,138.8 1868,138.7 C1866.7,138.6 1865.3,138.8 1864,139.6 C1862.7,140.4 1861.3,141.8 1860,143.7 C1858.7,145.5 1857.3,148 1856,150.6 C1854.7,153.2 1853.3,156.2 1852,159.4 C1850.7,162.6 1849.3,166.5 1848,169.9 C1846.7,173.3 1845.3,177 1844,180 C1842.7,183 1841.3,185.8 1840,187.9 C1838.7,190 1837.3,191.5 1836,192.8 C1834.7,194.1 1833.3,195 1832,195.8 C1830.7,196.6 1829.3,197.1 1828,197.6 C1826.7,198 1825.3,198.5 1824,198.6 C1822.7,198.6 1821.3,198.4 1820,198.1 C1818.7,197.8 1817.3,197.1 1816,196.6 C1814.7,196.1 1813.3,195.5 1812,195 C1810.7,194.5 1809.3,194.2 1808,193.7 C1806.7,193.3 1805.3,192.8 1804,192.4 C1802.7,191.9 1801.3,191.5 1800,191 C1798.7,190.5 1797.3,190.1 1796,189.6 C1794.7,189.1 1793.3,188.6 1792,188.1 C1790.7,187.6 1789.3,187.1 1788,186.7 C1786.7,186.2 1785.3,185.8 1784,185.4 C1782.7,185 1781.3,184.7 1780,184.4 C1778.7,184.1 1777.3,183.9 1776,183.8 C1774.7,183.6 1773.3,183.5 1772,183.4 C1770.7,183.4 1769.3,183.3 1768,183.3 C1766.7,183.2 1765.3,183.2 1764,183.2 C1762.7,183.1 1761.3,183.1 1760,183 C1758.7,182.9 1757.3,182.8 1756,182.8 C1754.7,182.7 1753.3,182.6 1752,182.6 C1750.7,182.5 1749.3,182.4 1748,182.4 C1746.7,182.3 1745.3,182.2 1744,182.2 C1742.7,182.1 1741.3,182.1 1740,182 C1738.7,181.9 1736.7,181.8 1736,181.8 Z" fill="#7E2F8E" fill-opacity="0.2"/>
<path d="M1736,139.8 C1746.7,141 1785.4,145 1800,147.2 C1814.6,149.4 1815.9,152.2 1823.6,152.8 C1831.3,153.4 1839.2,156.3 1846,151 C1852.8,145.7 1859.6,127.7 1864.5,121.2 C1869.4,114.7 1871,113.9 1875.6,112 C1880.2,110.1 1885.8,109.4 1892,110 C1898.2,110.6 1906.2,113.2 1912.7,115.7 C1919.2,118.2 1923.9,121.9 1931.3,125 C1938.7,128.1 1948,132 1957.3,134.2 C1966.6,136.4 1980.5,138 1987,138 C1993.5,138 1994.5,134.8 1996,134.2" fill="none" stroke="#d4602c" stroke-width="9"/>
<path d="M1736,149 C1746.8,149.9 1785.2,153.1 1801,154.7 C1816.8,156.3 1822.9,161.8 1831,158.4 C1839.1,155 1844,142.5 1849.6,134.2 C1855.2,125.8 1860.5,114.5 1864.5,108.3 C1868.5,102.1 1870,97.4 1873.7,97.1 C1877.4,96.8 1881.4,100.8 1886.7,106.4 C1892,112 1898.5,124.3 1905.3,130.5 C1912.1,136.7 1918.9,141.3 1927.6,143.5 C1936.3,145.7 1945.9,144.1 1957.3,143.5 C1968.7,142.9 1989.5,140.4 1996,139.8" fill="none" stroke="#e2a233" stroke-width="9"/>
<path d="M1736,139.8 C1740,140 1752.7,140.6 1760,141 C1767.3,141.4 1773.3,141.1 1780,142.4 C1786.7,143.7 1794.7,147.2 1800,149 C1805.3,150.8 1807.8,151.8 1812,153 C1816.2,154.2 1820.3,157.5 1825,156.5 C1829.7,155.5 1835,154 1840,147.2 C1845,140.4 1850.7,122.9 1855,115.7 C1859.3,108.5 1861.8,104.7 1866,103.8 C1870.2,102.9 1874.3,105.6 1880,110.1 C1885.7,114.5 1893.3,124 1900,130.5 C1906.7,137 1912.5,145.6 1920,149 C1927.5,152.4 1936.7,150.7 1945,151 C1953.3,151.3 1961.5,151 1970,151 C1978.5,151 1991.7,151 1996,151" fill="none" stroke="#7E2F8E" stroke-width="11"/>
</g>
<path d="M1735.5,31.1 V249 M1734,247.5 H1997" fill="none" stroke="#262626" stroke-width="3"/>
<path d="M1779.1,247.5 V241.5 M1864.5,247.5 V241.5 M1951.7,247.5 V241.5 M1735.5,33.9 H1739 M1735.5,141.7 H1739" fill="none" stroke="#262626" stroke-width="1.5"/>
<text transform="translate(1726.8,42.3) scale(1,1.06)" font-size="16.6" text-anchor="end" style="font-family:'Liberation Sans',Arial,Helvetica,sans-serif">0.5</text>
<text transform="translate(1727.5,147.6) scale(1,1.06)" font-size="16.6" text-anchor="end" style="font-family:'Liberation Sans',Arial,Helvetica,sans-serif">0</text>
<text transform="translate(1725.5,252) scale(1,1.06)" font-size="16.6" text-anchor="end" style="font-family:'Liberation Sans',Arial,Helvetica,sans-serif">-0.5</text>
<text transform="translate(1709.8,137) rotate(-90)" font-size="20.3" fill="#000" text-anchor="middle" style="font-family:'Liberation Sans',Arial,Helvetica,sans-serif">A.U</text>
<rect x="1892.3" y="30.1" width="14.3" height="5.6" fill="#0072BD"/>
<rect x="1962.5" y="28.8" width="14.6" height="6" fill="#EDB120"/>
<rect x="1892.3" y="53.2" width="14.3" height="6.8" fill="#D95319"/>
<rect x="1962.5" y="52" width="14.3" height="6.7" fill="#7E2F8E"/>
<text x="1909.2" y="38.6" font-size="16.5" style="font-family:'Liberation Sans',Arial,Helvetica,sans-serif" textLength="43.6" lengthAdjust="spacingAndGlyphs">L+H*</text>
<text x="1979.2" y="37.5" font-size="16.5" style="font-family:'Liberation Sans',Arial,Helvetica,sans-serif" textLength="21.3" lengthAdjust="spacingAndGlyphs">H*</text>
<text x="1909.2" y="60.4" font-size="16.5" style="font-family:'Liberation Sans',Arial,Helvetica,sans-serif" textLength="44" lengthAdjust="spacingAndGlyphs">L*+H</text>
<text x="1979.4" y="59.5" font-size="16.5" style="font-family:'Liberation Sans',Arial,Helvetica,sans-serif" textLength="18.1" lengthAdjust="spacingAndGlyphs">L*</text>
<text x="1675.7" y="283.9" font-size="28" fill="#000" text-anchor="start" style="font-family:'Liberation Sans',Arial,Helvetica,sans-serif" font-weight="bold">f.</text>
<text x="1867.3" y="283.3" font-size="18.5" fill="#000" text-anchor="middle" style="font-family:'Liberation Sans',Arial,Helvetica,sans-serif" >Pitch</text>
<g clip-path="url(#fclip)">
<path d="M1736,419.6 C1742.2,419 1762,417.9 1773.1,415.9 C1784.2,413.9 1793.5,412.5 1802.8,407.7 C1812.1,402.9 1821.4,393.2 1828.8,387.3 C1836.2,381.4 1841.5,375.9 1847.4,372.4 C1853.3,368.9 1858.5,365.8 1864.1,366.1 C1869.7,366.4 1874.9,369.2 1880.8,374.3 C1886.7,379.4 1893.2,390 1899.4,396.5 C1905.6,403 1910.6,409.3 1918,413.3 C1925.4,417.3 1934.7,419 1944,420.7 C1953.3,422.4 1964.9,422.8 1973.6,423.3 C1982.3,423.8 1992.3,423.6 1996,423.7" fill="none" stroke="#0072BD" stroke-width="9"/>
<path d="M1736,388.6 C1736.7,388.5 1738.7,388.4 1740,388.3 C1741.3,388.2 1742.7,388.1 1744,388 C1745.3,387.8 1746.7,387.7 1748,387.6 C1749.3,387.5 1750.7,387.4 1752,387.3 C1753.3,387.2 1754.7,387.1 1756,387 C1757.3,386.9 1758.7,386.7 1760,386.6 C1761.3,386.5 1762.7,386.3 1764,386.2 C1765.3,386 1766.7,385.9 1768,385.7 C1769.3,385.5 1770.7,385.3 1772,385.1 C1773.3,384.9 1774.7,384.6 1776,384.4 C1777.3,384.1 1778.7,383.9 1780,383.7 C1781.3,383.4 1782.7,383.2 1784,382.9 C1785.3,382.6 1786.7,382.3 1788,382 C1789.3,381.7 1790.7,381.3 1792,380.9 C1793.3,380.5 1794.7,380.1 1796,379.6 C1797.3,379.1 1798.7,378.6 1800,378 C1801.3,377.3 1802.7,376.7 1804,375.9 C1805.3,375.1 1806.7,374.3 1808,373.3 C1809.3,372.4 1810.7,371.3 1812,370.2 C1813.3,369.1 1814.7,367.9 1816,366.7 C1817.3,365.5 1818.7,364.2 1820,362.9 C1821.3,361.6 1822.7,360.3 1824,358.9 C1825.3,357.6 1826.7,356.3 1828,354.9 C1829.3,353.6 1830.7,352.3 1832,350.9 C1833.3,349.5 1834.7,348.1 1836,346.6 C1837.3,345.1 1838.7,343.6 1840,342.1 C1841.3,340.7 1842.7,339.2 1844,337.8 C1845.3,336.5 1846.7,335.3 1848,334.1 C1849.3,332.9 1850.7,331.7 1852,330.7 C1853.3,329.6 1854.7,328.6 1856,327.8 C1857.3,327 1858.7,326.3 1860,325.8 C1861.3,325.4 1862.7,325.2 1864,325.1 C1865.3,325.1 1866.7,325.4 1868,325.8 C1869.3,326.2 1870.7,326.8 1872,327.7 C1873.3,328.5 1874.7,329.5 1876,330.6 C1877.3,331.8 1878.7,333.1 1880,334.6 C1881.3,336.1 1882.7,337.7 1884,339.5 C1885.3,341.3 1886.7,343.4 1888,345.5 C1889.3,347.5 1890.7,349.7 1892,351.8 C1893.3,353.9 1894.7,356 1896,357.9 C1897.3,359.9 1898.7,361.6 1900,363.4 C1901.3,365.1 1902.7,366.8 1904,368.4 C1905.3,370.1 1906.7,371.7 1908,373.2 C1909.3,374.7 1910.7,376 1912,377.3 C1913.3,378.5 1914.7,379.6 1916,380.5 C1917.3,381.4 1918.7,382.2 1920,382.9 C1921.3,383.6 1922.7,384.2 1924,384.7 C1925.3,385.3 1926.7,385.7 1928,386.1 C1929.3,386.5 1930.7,386.9 1932,387.2 C1933.3,387.6 1934.7,387.9 1936,388.1 C1937.3,388.4 1938.7,388.7 1940,388.9 C1941.3,389.2 1942.7,389.5 1944,389.7 C1945.3,389.9 1946.7,390.1 1948,390.3 C1949.3,390.5 1950.7,390.7 1952,390.8 C1953.3,391 1954.7,391.1 1956,391.2 C1957.3,391.3 1958.7,391.4 1960,391.5 C1961.3,391.6 1962.7,391.7 1964,391.8 C1965.3,391.8 1966.7,391.9 1968,392 C1969.3,392.1 1970.7,392.1 1972,392.2 C1973.3,392.3 1974.7,392.4 1976,392.4 C1977.3,392.5 1978.7,392.5 1980,392.6 C1981.3,392.6 1982.7,392.6 1984,392.6 C1985.3,392.7 1986.7,392.7 1988,392.7 C1989.3,392.7 1990.7,392.7 1992,392.7 C1993.3,392.7 1995,392.7 1996,392.7 C1997,392.7 1997.7,392.7 1998,392.7 L1998,454.7 C1997.7,454.7 1997,454.7 1996,454.7 C1995,454.7 1993.3,454.7 1992,454.7 C1990.7,454.7 1989.3,454.7 1988,454.7 C1986.7,454.7 1985.3,454.7 1984,454.6 C1982.7,454.6 1981.3,454.6 1980,454.6 C1978.7,454.5 1977.3,454.5 1976,454.4 C1974.7,454.4 1973.3,454.3 1972,454.2 C1970.7,454.1 1969.3,454.1 1968,454 C1966.7,453.9 1965.3,453.8 1964,453.8 C1962.7,453.7 1961.3,453.6 1960,453.5 C1958.7,453.4 1957.3,453.3 1956,453.2 C1954.7,453.1 1953.3,453 1952,452.8 C1950.7,452.7 1949.3,452.5 1948,452.3 C1946.7,452.1 1945.3,451.9 1944,451.7 C1942.7,451.5 1941.3,451.2 1940,451 C1938.7,450.7 1937.3,450.5 1936,450.2 C1934.7,450 1933.3,449.7 1932,449.4 C1930.7,449.1 1929.3,448.8 1928,448.4 C1926.7,448 1925.3,447.6 1924,447.2 C1922.7,446.7 1921.3,446.3 1920,445.7 C1918.7,445.1 1917.3,444.5 1916,443.7 C1914.7,443 1913.3,442.1 1912,441.2 C1910.7,440.2 1909.3,439.1 1908,438 C1906.7,436.9 1905.3,435.6 1904,434.4 C1902.7,433.3 1901.3,432.1 1900,430.9 C1898.7,429.7 1897.3,428.6 1896,427.3 C1894.7,426 1893.3,424.6 1892,423.2 C1890.7,421.9 1889.3,420.4 1888,419.1 C1886.7,417.9 1885.3,416.5 1884,415.5 C1882.7,414.4 1881.3,413.5 1880,412.7 C1878.7,411.9 1877.3,411.2 1876,410.5 C1874.7,409.9 1873.3,409.3 1872,408.9 C1870.7,408.4 1869.3,408 1868,407.7 C1866.7,407.4 1865.3,407.2 1864,407.1 C1862.7,406.9 1861.3,406.9 1860,407.1 C1858.7,407.2 1857.3,407.4 1856,407.7 C1854.7,408 1853.3,408.4 1852,408.8 C1850.7,409.2 1849.3,409.6 1848,410 C1846.7,410.5 1845.3,410.9 1844,411.5 C1842.7,412.1 1841.3,412.8 1840,413.6 C1838.7,414.3 1837.3,415.1 1836,416 C1834.7,416.8 1833.3,417.6 1832,418.5 C1830.7,419.3 1829.3,420.1 1828,421 C1826.7,421.8 1825.3,422.8 1824,423.8 C1822.7,424.7 1821.3,425.8 1820,426.8 C1818.7,427.9 1817.3,428.9 1816,430 C1814.7,431 1813.3,432 1812,433 C1810.7,434 1809.3,434.9 1808,435.8 C1806.7,436.6 1805.3,437.5 1804,438.2 C1802.7,438.9 1801.3,439.5 1800,440.1 C1798.7,440.7 1797.3,441.2 1796,441.7 C1794.7,442.2 1793.3,442.6 1792,443 C1790.7,443.3 1789.3,443.7 1788,444 C1786.7,444.3 1785.3,444.6 1784,444.9 C1782.7,445.2 1781.3,445.4 1780,445.7 C1778.7,445.9 1777.3,446.2 1776,446.4 C1774.7,446.6 1773.3,446.9 1772,447.1 C1770.7,447.3 1769.3,447.5 1768,447.7 C1766.7,447.9 1765.3,448 1764,448.2 C1762.7,448.3 1761.3,448.5 1760,448.6 C1758.7,448.7 1757.3,448.9 1756,449 C1754.7,449.1 1753.3,449.2 1752,449.3 C1750.7,449.4 1749.3,449.5 1748,449.6 C1746.7,449.7 1745.3,449.8 1744,450 C1742.7,450.1 1741.3,450.2 1740,450.3 C1738.7,450.4 1736.7,450.5 1736,450.6 Z" fill="#0072BD" fill-opacity="0.2"/>
<path d="M1736,394 C1736.7,394 1738.7,394.1 1740,394.1 C1741.3,394.1 1742.7,394.1 1744,394.2 C1745.3,394.2 1746.7,394.2 1748,394.2 C1749.3,394.3 1750.7,394.3 1752,394.3 C1753.3,394.4 1754.7,394.4 1756,394.4 C1757.3,394.4 1758.7,394.5 1760,394.5 C1761.3,394.5 1762.7,394.5 1764,394.6 C1765.3,394.6 1766.7,394.6 1768,394.7 C1769.3,394.7 1770.7,394.7 1772,394.7 C1773.3,394.8 1774.7,394.8 1776,394.8 C1777.3,394.8 1778.7,394.9 1780,394.9 C1781.3,394.9 1782.7,394.9 1784,395 C1785.3,395 1786.7,395 1788,395 C1789.3,395.1 1790.7,395.1 1792,395.1 C1793.3,395.1 1794.7,395.1 1796,395.1 C1797.3,395.1 1798.7,395.1 1800,395.1 C1801.3,395.1 1802.7,395 1804,395 C1805.3,395 1806.7,395 1808,395 C1809.3,395.1 1810.7,395.1 1812,395.2 C1813.3,395.2 1814.7,395.3 1816,395.4 C1817.3,395.5 1818.7,395.6 1820,395.7 C1821.3,395.8 1822.7,395.9 1824,396 C1825.3,396.1 1826.7,396.2 1828,396.3 C1829.3,396.4 1830.7,396.5 1832,396.6 C1833.3,396.6 1834.7,396.7 1836,396.8 C1837.3,396.9 1838.7,396.9 1840,397 C1841.3,397.1 1842.7,397.1 1844,397.1 C1845.3,397.2 1846.7,397.2 1848,397.3 C1849.3,397.3 1850.7,397.3 1852,397.3 C1853.3,397.3 1854.7,397.4 1856,397.3 C1857.3,397.3 1858.7,397.2 1860,397.1 C1861.3,397.1 1862.7,396.9 1864,396.8 C1865.3,396.6 1866.7,396.7 1868,396.2 C1869.3,395.8 1870.7,395.2 1872,394.2 C1873.3,393.2 1874.7,391.7 1876,390.1 C1877.3,388.5 1878.7,386.4 1880,384.4 C1881.3,382.5 1882.7,380.4 1884,378.5 C1885.3,376.7 1886.7,375 1888,373.5 C1889.3,372 1890.7,370.7 1892,369.3 C1893.3,368 1894.7,366.7 1896,365.4 C1897.3,364.2 1898.7,363 1900,361.8 C1901.3,360.6 1902.7,359.5 1904,358.4 C1905.3,357.3 1906.7,356.3 1908,355.3 C1909.3,354.3 1910.7,353.3 1912,352.5 C1913.3,351.6 1914.7,350.7 1916,350 C1917.3,349.2 1918.7,348.5 1920,348 C1921.3,347.4 1922.7,347 1924,346.7 C1925.3,346.4 1926.7,346.2 1928,346.2 C1929.3,346.1 1930.7,346.3 1932,346.5 C1933.3,346.8 1934.7,347.2 1936,347.8 C1937.3,348.3 1938.7,349 1940,349.7 C1941.3,350.4 1942.7,351.3 1944,352.1 C1945.3,353 1946.7,353.9 1948,354.9 C1949.3,355.9 1950.7,357 1952,358.1 C1953.3,359.3 1954.7,360.5 1956,361.7 C1957.3,362.9 1958.7,364.2 1960,365.3 C1961.3,366.5 1962.7,367.7 1964,368.8 C1965.3,369.8 1966.7,370.9 1968,371.8 C1969.3,372.7 1970.7,373.5 1972,374.2 C1973.3,375 1974.7,375.6 1976,376.3 C1977.3,376.9 1978.7,377.5 1980,378 C1981.3,378.6 1982.7,379.1 1984,379.7 C1985.3,380.2 1986.7,380.7 1988,381.1 C1989.3,381.6 1990.7,382.1 1992,382.5 C1993.3,383 1995,383.7 1996,383.9 C1997,384.2 1997.7,383.9 1998,383.9 L1998,450.1 C1997.7,450.1 1997,450.3 1996,450.1 C1995,449.9 1993.3,449.2 1992,448.8 C1990.7,448.4 1989.3,448 1988,447.6 C1986.7,447.2 1985.3,446.8 1984,446.4 C1982.7,446.1 1981.3,445.7 1980,445.3 C1978.7,444.9 1977.3,444.5 1976,444.2 C1974.7,443.8 1973.3,443.4 1972,443 C1970.7,442.6 1969.3,442.2 1968,441.8 C1966.7,441.3 1965.3,440.8 1964,440.3 C1962.7,439.8 1961.3,439.2 1960,438.7 C1958.7,438.2 1957.3,437.6 1956,437.1 C1954.7,436.7 1953.3,436.2 1952,435.8 C1950.7,435.4 1949.3,435.1 1948,434.9 C1946.7,434.6 1945.3,434.4 1944,434.2 C1942.7,434 1941.3,433.8 1940,433.6 C1938.7,433.4 1937.3,433.2 1936,433 C1934.7,432.8 1933.3,432.6 1932,432.5 C1930.7,432.3 1929.3,432.2 1928,432.1 C1926.7,432 1925.3,431.9 1924,431.9 C1922.7,431.9 1921.3,431.9 1920,431.9 C1918.7,431.9 1917.3,432 1916,432.1 C1914.7,432.1 1913.3,432.3 1912,432.4 C1910.7,432.6 1909.3,432.7 1908,433 C1906.7,433.2 1905.3,433.5 1904,433.9 C1902.7,434.2 1901.3,434.6 1900,435.2 C1898.7,435.7 1897.3,436.3 1896,437 C1894.7,437.7 1893.3,438.5 1892,439.3 C1890.7,440.2 1889.3,441.1 1888,442.3 C1886.7,443.5 1885.3,444.9 1884,446.5 C1882.7,448 1881.3,449.9 1880,451.7 C1878.7,453.4 1877.3,455.4 1876,456.9 C1874.7,458.4 1873.3,459.7 1872,460.7 C1870.7,461.6 1869.3,462.1 1868,462.5 C1866.7,462.9 1865.3,462.8 1864,462.9 C1862.7,463 1861.3,463.2 1860,463.2 C1858.7,463.3 1857.3,463.3 1856,463.4 C1854.7,463.4 1853.3,463.4 1852,463.4 C1850.7,463.3 1849.3,463.3 1848,463.3 C1846.7,463.2 1845.3,463.2 1844,463.1 C1842.7,463.1 1841.3,463.1 1840,463 C1838.7,462.9 1837.3,462.9 1836,462.8 C1834.7,462.7 1833.3,462.6 1832,462.6 C1830.7,462.5 1829.3,462.4 1828,462.3 C1826.7,462.2 1825.3,462.1 1824,462 C1822.7,461.9 1821.3,461.8 1820,461.7 C1818.7,461.6 1817.3,461.5 1816,461.4 C1814.7,461.3 1813.3,461.2 1812,461.2 C1810.7,461.1 1809.3,461.1 1808,461 C1806.7,461 1805.3,461 1804,461 C1802.7,461 1801.3,461.1 1800,461.1 C1798.7,461.1 1797.3,461.1 1796,461.1 C1794.7,461.1 1793.3,461.1 1792,461.1 C1790.7,461.1 1789.3,461.1 1788,461 C1786.7,461 1785.3,461 1784,461 C1782.7,460.9 1781.3,460.9 1780,460.9 C1778.7,460.9 1777.3,460.8 1776,460.8 C1774.7,460.8 1773.3,460.8 1772,460.7 C1770.7,460.7 1769.3,460.7 1768,460.7 C1766.7,460.6 1765.3,460.6 1764,460.6 C1762.7,460.5 1761.3,460.5 1760,460.5 C1758.7,460.5 1757.3,460.4 1756,460.4 C1754.7,460.4 1753.3,460.4 1752,460.3 C1750.7,460.3 1749.3,460.3 1748,460.2 C1746.7,460.2 1745.3,460.2 1744,460.2 C1742.7,460.1 1741.3,460.1 1740,460.1 C1738.7,460.1 1736.7,460 1736,460 Z" fill="#D95319" fill-opacity="0.2"/>
<path d="M1736,403.7 C1736.7,403.6 1738.7,403.4 1740,403.2 C1741.3,403.1 1742.7,402.9 1744,402.8 C1745.3,402.6 1746.7,402.5 1748,402.3 C1749.3,402.2 1750.7,402 1752,401.9 C1753.3,401.7 1754.7,401.6 1756,401.4 C1757.3,401.3 1758.7,401.1 1760,401 C1761.3,400.8 1762.7,400.7 1764,400.5 C1765.3,400.4 1766.7,400.2 1768,400 C1769.3,399.9 1770.7,399.7 1772,399.5 C1773.3,399.3 1774.7,399.2 1776,399 C1777.3,398.8 1778.7,398.6 1780,398.4 C1781.3,398.2 1782.7,398 1784,397.7 C1785.3,397.5 1786.7,397.3 1788,397 C1789.3,396.8 1790.7,396.5 1792,396.2 C1793.3,395.9 1794.7,395.6 1796,395.3 C1797.3,394.9 1798.7,394.5 1800,394.1 C1801.3,393.7 1802.7,393.3 1804,392.8 C1805.3,392.4 1806.7,391.9 1808,391.4 C1809.3,390.9 1810.7,390.4 1812,389.9 C1813.3,389.4 1814.7,388.8 1816,388.3 C1817.3,387.7 1818.7,387.2 1820,386.6 C1821.3,386.1 1822.7,385.6 1824,385.1 C1825.3,384.6 1826.7,384.1 1828,383.6 C1829.3,383.1 1830.7,382.7 1832,382.2 C1833.3,381.7 1834.7,381.2 1836,380.7 C1837.3,380.2 1838.7,379.7 1840,379.2 C1841.3,378.7 1842.7,378.2 1844,377.7 C1845.3,377.2 1846.7,376.8 1848,376.3 C1849.3,375.8 1850.7,375.3 1852,374.9 C1853.3,374.4 1854.7,374 1856,373.6 C1857.3,373.2 1858.7,372.8 1860,372.5 C1861.3,372.3 1862.7,372 1864,371.9 C1865.3,371.8 1866.7,371.7 1868,371.9 C1869.3,372.1 1870.7,372.6 1872,373.2 C1873.3,373.7 1874.7,374.6 1876,375.3 C1877.3,376 1878.7,376.6 1880,377.3 C1881.3,378.1 1882.7,379 1884,379.9 C1885.3,380.8 1886.7,381.7 1888,382.6 C1889.3,383.5 1890.7,384.3 1892,385.1 C1893.3,385.8 1894.7,386.5 1896,387.1 C1897.3,387.8 1898.7,388.4 1900,388.9 C1901.3,389.5 1902.7,390.1 1904,390.7 C1905.3,391.2 1906.7,391.7 1908,392.2 C1909.3,392.7 1910.7,393.2 1912,393.7 C1913.3,394.1 1914.7,394.5 1916,394.9 C1917.3,395.2 1918.7,395.6 1920,395.9 C1921.3,396.2 1922.7,396.5 1924,396.8 C1925.3,397 1926.7,397.3 1928,397.5 C1929.3,397.7 1930.7,397.9 1932,398.1 C1933.3,398.3 1934.7,398.4 1936,398.6 C1937.3,398.8 1938.7,398.9 1940,399.1 C1941.3,399.2 1942.7,399.3 1944,399.5 C1945.3,399.6 1946.7,399.7 1948,399.8 C1949.3,400 1950.7,400.1 1952,400.2 C1953.3,400.3 1954.7,400.4 1956,400.5 C1957.3,400.6 1958.7,400.7 1960,400.8 C1961.3,400.9 1962.7,400.9 1964,401 C1965.3,401.1 1966.7,401.1 1968,401.2 C1969.3,401.2 1970.7,401.3 1972,401.3 C1973.3,401.4 1974.7,401.4 1976,401.4 C1977.3,401.5 1978.7,401.5 1980,401.5 C1981.3,401.6 1982.7,401.6 1984,401.6 C1985.3,401.6 1986.7,401.6 1988,401.7 C1989.3,401.7 1990.7,401.7 1992,401.7 C1993.3,401.7 1995,401.8 1996,401.8 C1997,401.8 1997.7,401.8 1998,401.8 L1998,461.8 C1997.7,461.8 1997,461.8 1996,461.8 C1995,461.8 1993.3,461.7 1992,461.7 C1990.7,461.7 1989.3,461.7 1988,461.7 C1986.7,461.6 1985.3,461.6 1984,461.6 C1982.7,461.6 1981.3,461.6 1980,461.5 C1978.7,461.5 1977.3,461.5 1976,461.4 C1974.7,461.4 1973.3,461.4 1972,461.3 C1970.7,461.3 1969.3,461.2 1968,461.2 C1966.7,461.1 1965.3,461.1 1964,461 C1962.7,460.9 1961.3,460.9 1960,460.8 C1958.7,460.7 1957.3,460.6 1956,460.5 C1954.7,460.4 1953.3,460.3 1952,460.2 C1950.7,460.1 1949.3,460 1948,459.8 C1946.7,459.7 1945.3,459.6 1944,459.5 C1942.7,459.3 1941.3,459.2 1940,459.1 C1938.7,458.9 1937.3,458.8 1936,458.6 C1934.7,458.4 1933.3,458.3 1932,458.1 C1930.7,457.9 1929.3,457.7 1928,457.5 C1926.7,457.3 1925.3,457 1924,456.8 C1922.7,456.5 1921.3,456.2 1920,455.9 C1918.7,455.6 1917.3,455.2 1916,454.9 C1914.7,454.5 1913.3,454.1 1912,453.7 C1910.7,453.2 1909.3,452.7 1908,452.2 C1906.7,451.7 1905.3,451.2 1904,450.7 C1902.7,450.1 1901.3,449.5 1900,448.9 C1898.7,448.4 1897.3,447.8 1896,447.1 C1894.7,446.5 1893.3,445.8 1892,445.1 C1890.7,444.3 1889.3,443.5 1888,442.6 C1886.7,441.7 1885.3,440.8 1884,439.9 C1882.7,439 1881.3,438.1 1880,437.3 C1878.7,436.6 1877.3,436 1876,435.3 C1874.7,434.6 1873.3,433.7 1872,433.2 C1870.7,432.6 1869.3,432.1 1868,431.9 C1866.7,431.7 1865.3,431.8 1864,431.9 C1862.7,432 1861.3,432.3 1860,432.5 C1858.7,432.8 1857.3,433.2 1856,433.6 C1854.7,434 1853.3,434.4 1852,434.9 C1850.7,435.3 1849.3,435.8 1848,436.3 C1846.7,436.8 1845.3,437.2 1844,437.7 C1842.7,438.2 1841.3,438.7 1840,439.2 C1838.7,439.7 1837.3,440.2 1836,440.7 C1834.7,441.2 1833.3,441.7 1832,442.2 C1830.7,442.7 1829.3,443.1 1828,443.6 C1826.7,444.1 1825.3,444.6 1824,445.1 C1822.7,445.6 1821.3,446.1 1820,446.6 C1818.7,447.2 1817.3,447.7 1816,448.3 C1814.7,448.8 1813.3,449.4 1812,449.9 C1810.7,450.4 1809.3,450.9 1808,451.4 C1806.7,451.9 1805.3,452.4 1804,452.8 C1802.7,453.3 1801.3,453.7 1800,454.1 C1798.7,454.5 1797.3,454.9 1796,455.3 C1794.7,455.6 1793.3,455.9 1792,456.2 C1790.7,456.5 1789.3,456.8 1788,457 C1786.7,457.3 1785.3,457.5 1784,457.7 C1782.7,458 1781.3,458.2 1780,458.4 C1778.7,458.6 1777.3,458.8 1776,459 C1774.7,459.2 1773.3,459.3 1772,459.5 C1770.7,459.7 1769.3,459.9 1768,460 C1766.7,460.2 1765.3,460.4 1764,460.5 C1762.7,460.7 1761.3,460.8 1760,461 C1758.7,461.1 1757.3,461.3 1756,461.4 C1754.7,461.6 1753.3,461.7 1752,461.9 C1750.7,462 1749.3,462.2 1748,462.3 C1746.7,462.5 1745.3,462.6 1744,462.8 C1742.7,462.9 1741.3,463.1 1740,463.2 C1738.7,463.4 1736.7,463.6 1736,463.7 Z" fill="#EDB120" fill-opacity="0.2"/>
<path d="M1736,392.1 C1736.7,392.1 1738.7,392.3 1740,392.4 C1741.3,392.4 1742.7,392.5 1744,392.6 C1745.3,392.7 1746.7,392.8 1748,392.8 C1749.3,392.9 1750.7,393 1752,393.1 C1753.3,393.2 1754.7,393.3 1756,393.3 C1757.3,393.4 1758.7,393.5 1760,393.6 C1761.3,393.7 1762.7,393.8 1764,393.9 C1765.3,394 1766.7,394.1 1768,394.3 C1769.3,394.4 1770.7,394.5 1772,394.6 C1773.3,394.8 1774.7,394.9 1776,395 C1777.3,395.2 1778.7,395.3 1780,395.5 C1781.3,395.6 1782.7,395.8 1784,395.9 C1785.3,396.1 1786.7,396.3 1788,396.4 C1789.3,396.6 1790.7,396.8 1792,397 C1793.3,397.2 1794.7,397.4 1796,397.6 C1797.3,397.8 1798.7,398 1800,398.2 C1801.3,398.5 1802.7,398.7 1804,399 C1805.3,399.2 1806.7,399.5 1808,399.8 C1809.3,400.1 1810.7,400.4 1812,400.8 C1813.3,401.2 1814.7,401.5 1816,401.9 C1817.3,402.3 1818.7,402.8 1820,403.2 C1821.3,403.7 1822.7,404.2 1824,404.6 C1825.3,405.1 1826.7,405.7 1828,406.2 C1829.3,406.7 1830.7,407.2 1832,407.8 C1833.3,408.3 1834.7,408.9 1836,409.4 C1837.3,409.9 1838.7,410.4 1840,410.9 C1841.3,411.5 1842.7,412 1844,412.5 C1845.3,413 1846.7,413.6 1848,414.1 C1849.3,414.7 1850.7,415.2 1852,415.7 C1853.3,416.2 1854.7,416.7 1856,417.2 C1857.3,417.6 1858.7,418 1860,418.3 C1861.3,418.6 1862.7,418.9 1864,419.1 C1865.3,419.3 1866.7,419.4 1868,419.4 C1869.3,419.4 1870.7,419.4 1872,419.3 C1873.3,419.2 1874.7,419.1 1876,418.9 C1877.3,418.7 1878.7,418.4 1880,418.1 C1881.3,417.8 1882.7,417.5 1884,417.1 C1885.3,416.8 1886.7,416.4 1888,415.9 C1889.3,415.5 1890.7,415.1 1892,414.6 C1893.3,414.2 1894.7,413.7 1896,413.1 C1897.3,412.6 1898.7,412 1900,411.4 C1901.3,410.8 1902.7,410.2 1904,409.5 C1905.3,408.9 1906.7,408.3 1908,407.7 C1909.3,407.1 1910.7,406.5 1912,405.9 C1913.3,405.3 1914.7,404.8 1916,404.3 C1917.3,403.7 1918.7,403.3 1920,402.8 C1921.3,402.4 1922.7,402 1924,401.6 C1925.3,401.2 1926.7,400.8 1928,400.4 C1929.3,400.1 1930.7,399.7 1932,399.4 C1933.3,399 1934.7,398.7 1936,398.4 C1937.3,398.1 1938.7,397.8 1940,397.5 C1941.3,397.2 1942.7,396.9 1944,396.7 C1945.3,396.4 1946.7,396.1 1948,395.9 C1949.3,395.6 1950.7,395.4 1952,395.1 C1953.3,394.9 1954.7,394.7 1956,394.5 C1957.3,394.3 1958.7,394 1960,393.9 C1961.3,393.7 1962.7,393.5 1964,393.3 C1965.3,393.1 1966.7,393 1968,392.8 C1969.3,392.7 1970.7,392.6 1972,392.4 C1973.3,392.3 1974.7,392.2 1976,392 C1977.3,391.9 1978.7,391.8 1980,391.7 C1981.3,391.5 1982.7,391.4 1984,391.3 C1985.3,391.2 1986.7,391.1 1988,391 C1989.3,390.9 1990.7,390.8 1992,390.7 C1993.3,390.5 1995,390.4 1996,390.3 C1997,390.2 1997.7,390.3 1998,390.3 L1998,462.3 C1997.7,462.3 1997,462.2 1996,462.3 C1995,462.4 1993.3,462.5 1992,462.7 C1990.7,462.8 1989.3,462.9 1988,463 C1986.7,463.1 1985.3,463.2 1984,463.3 C1982.7,463.4 1981.3,463.5 1980,463.7 C1978.7,463.8 1977.3,463.9 1976,464 C1974.7,464.1 1973.3,464.3 1972,464.4 C1970.7,464.5 1969.3,464.7 1968,464.8 C1966.7,465 1965.3,465.1 1964,465.3 C1962.7,465.5 1961.3,465.6 1960,465.8 C1958.7,466 1957.3,466.2 1956,466.4 C1954.7,466.6 1953.3,466.8 1952,467 C1950.7,467.2 1949.3,467.5 1948,467.7 C1946.7,467.9 1945.3,468.2 1944,468.4 C1942.7,468.6 1941.3,468.9 1940,469.1 C1938.7,469.4 1937.3,469.6 1936,469.8 C1934.7,470.1 1933.3,470.3 1932,470.6 C1930.7,470.8 1929.3,471.1 1928,471.3 C1926.7,471.6 1925.3,471.8 1924,472.1 C1922.7,472.4 1921.3,472.6 1920,472.9 C1918.7,473.2 1917.3,473.4 1916,473.7 C1914.7,474.1 1913.3,474.4 1912,474.7 C1910.7,475 1909.3,475.4 1908,475.7 C1906.7,476 1905.3,476.4 1904,476.7 C1902.7,477 1901.3,477.3 1900,477.6 C1898.7,477.8 1897.3,478.1 1896,478.3 C1894.7,478.5 1893.3,478.6 1892,478.8 C1890.7,478.9 1889.3,479 1888,479.1 C1886.7,479.2 1885.3,479.3 1884,479.3 C1882.7,479.4 1881.3,479.5 1880,479.5 C1878.7,479.6 1877.3,479.6 1876,479.6 C1874.7,479.6 1873.3,479.6 1872,479.6 C1870.7,479.5 1869.3,479.5 1868,479.4 C1866.7,479.3 1865.3,479.3 1864,479.1 C1862.7,479 1861.3,478.8 1860,478.6 C1858.7,478.4 1857.3,478.1 1856,477.9 C1854.7,477.6 1853.3,477.4 1852,477.1 C1850.7,476.9 1849.3,476.6 1848,476.3 C1846.7,476.1 1845.3,475.8 1844,475.6 C1842.7,475.4 1841.3,475.2 1840,475.1 C1838.7,474.9 1837.3,474.7 1836,474.5 C1834.7,474.4 1833.3,474.2 1832,474 C1830.7,473.7 1829.3,473.5 1828,473.3 C1826.7,473.1 1825.3,472.9 1824,472.7 C1822.7,472.5 1821.3,472.2 1820,472 C1818.7,471.8 1817.3,471.6 1816,471.4 C1814.7,471.2 1813.3,471 1812,470.9 C1810.7,470.7 1809.3,470.5 1808,470.4 C1806.7,470.2 1805.3,470 1804,469.9 C1802.7,469.7 1801.3,469.6 1800,469.4 C1798.7,469.3 1797.3,469.2 1796,469 C1794.7,468.9 1793.3,468.7 1792,468.6 C1790.7,468.4 1789.3,468.3 1788,468.2 C1786.7,468 1785.3,467.9 1784,467.8 C1782.7,467.6 1781.3,467.5 1780,467.3 C1778.7,467.2 1777.3,467.1 1776,467 C1774.7,466.8 1773.3,466.7 1772,466.6 C1770.7,466.5 1769.3,466.3 1768,466.2 C1766.7,466.1 1765.3,466 1764,465.9 C1762.7,465.8 1761.3,465.7 1760,465.6 C1758.7,465.5 1757.3,465.4 1756,465.3 C1754.7,465.3 1753.3,465.2 1752,465.1 C1750.7,465 1749.3,464.9 1748,464.8 C1746.7,464.8 1745.3,464.7 1744,464.6 C1742.7,464.5 1741.3,464.4 1740,464.4 C1738.7,464.3 1736.7,464.1 1736,464.1 Z" fill="#7E2F8E" fill-opacity="0.2"/>
<path d="M1736,427 C1745.3,427.2 1779.3,427.9 1791.7,428.1 C1804.1,428.3 1802.2,427.8 1810.3,428.1 C1818.3,428.4 1831.3,429.7 1840,430 C1848.7,430.3 1856.7,430.6 1862.3,430 C1867.9,429.4 1869.1,430 1873.4,426.3 C1877.7,422.6 1882.6,413 1888.2,407.7 C1893.8,402.4 1900.3,397.8 1906.8,394.7 C1913.3,391.6 1920.4,389.1 1927.2,389.1 C1934,389.1 1940.5,391.6 1947.6,394.7 C1954.7,397.8 1961.8,404 1969.9,407.7 C1978,411.4 1991.7,415.4 1996,417" fill="none" stroke="#e0601c" stroke-width="9"/>
<path d="M1736,433.7 C1745.3,432.5 1776.2,429.7 1791.7,426.3 C1807.2,422.9 1817,417.3 1828.8,413.3 C1840.6,409.3 1854.2,403.4 1862.3,402.1 C1870.3,400.9 1871.5,403.3 1877.1,405.8 C1882.7,408.3 1888.3,413.6 1895.7,417 C1903.1,420.4 1911.2,424 1921.7,426.3 C1932.2,428.6 1946.4,429.8 1958.8,430.7 C1971.2,431.6 1989.8,431.6 1996,431.8" fill="none" stroke="#ecb020" stroke-width="9"/>
<path d="M1736,428.1 C1742.2,428.5 1760.7,429.5 1773.1,430.7 C1785.5,431.9 1799.1,433.4 1810.3,435.5 C1821.5,437.6 1830.7,440.7 1840,443 C1849.3,445.3 1857.3,448.7 1866,449.3 C1874.7,449.9 1882.7,448.7 1892,446.7 C1901.3,444.7 1910.6,440.2 1921.7,437.4 C1932.8,434.6 1946.4,431.9 1958.8,430 C1971.2,428.1 1989.8,426.9 1996,426.3" fill="none" stroke="#7E2F8E" stroke-width="12"/>
</g>
<path d="M1738,280 V496 M1736.5,494.4 H1997" fill="none" stroke="#262626" stroke-width="3"/>
<path d="M1780.9,494.4 V488.4 M1866.4,494.4 V488.4 M1952.5,494.4 V488.4 M1738,281.5 H1741.5 M1738,352.8 H1741.5 M1738,424.3 H1741.5" fill="none" stroke="#262626" stroke-width="1.5"/>
<text x="1731.6" y="289.4" font-size="19.4" fill="#000" text-anchor="end" style="font-family:'Liberation Sans',Arial,Helvetica,sans-serif" >4</text>
<text x="1731.8" y="360.5" font-size="19.4" fill="#000" text-anchor="end" style="font-family:'Liberation Sans',Arial,Helvetica,sans-serif" >2</text>
<text x="1731.8" y="431.6" font-size="19.4" fill="#000" text-anchor="end" style="font-family:'Liberation Sans',Arial,Helvetica,sans-serif" >0</text>
<text x="1734.3" y="499.9" font-size="19.4" fill="#000" text-anchor="end" style="font-family:'Liberation Sans',Arial,Helvetica,sans-serif" >-2</text>
<text transform="translate(1775,512) scale(1,1.2)" font-size="16" text-anchor="middle" style="font-family:'Liberation Sans',Arial,Helvetica,sans-serif">-0.2</text>
<text transform="translate(1867.8,512) scale(1,1.2)" font-size="16" text-anchor="middle" style="font-family:'Liberation Sans',Arial,Helvetica,sans-serif">0</text>
<text transform="translate(1950.5,512) scale(1,1.2)" font-size="16" text-anchor="middle" style="font-family:'Liberation Sans',Arial,Helvetica,sans-serif">0.2</text>
<text x="1836.3" y="528" font-size="18.8" fill="#000" text-anchor="start" style="font-family:'Liberation Sans',Arial,Helvetica,sans-serif" >Time (ms)</text>
<text transform="translate(1709.2,383.5) rotate(-90)" font-size="20.3" fill="#000" text-anchor="middle" style="font-family:'Liberation Sans',Arial,Helvetica,sans-serif">A.U</text></svg>
</body></html>
